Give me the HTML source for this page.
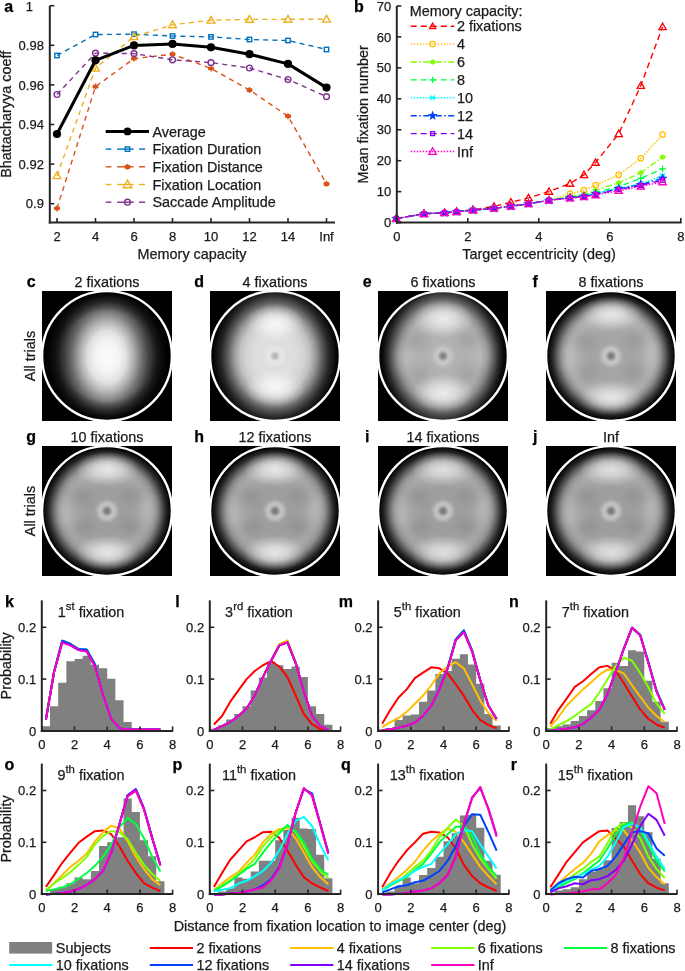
<!DOCTYPE html>
<html><head><meta charset="utf-8"><style>
html,body{margin:0;padding:0;background:#fff;}
svg{display:block;font-family:"Liberation Sans",sans-serif;will-change:transform;font-variant-ligatures:none;}

</style></head><body>
<svg width="685" height="971" viewBox="0 0 685 971">
<defs><filter id="blur5" x="-100%" y="-100%" width="300%" height="300%"><feGaussianBlur stdDeviation="5"/></filter>
<filter id="blur6" x="-100%" y="-100%" width="300%" height="300%"><feGaussianBlur stdDeviation="6"/></filter>
<radialGradient id="vig" cx="0.5" cy="0.5" r="0.5"><stop offset="0" stop-color="#000" stop-opacity="0"/><stop offset="0.7" stop-color="#000" stop-opacity="0"/><stop offset="0.8" stop-color="#000" stop-opacity="0.3"/><stop offset="0.9" stop-color="#000" stop-opacity="0.6"/><stop offset="1" stop-color="#000" stop-opacity="1"/></radialGradient>
<filter id="blur2" x="-100%" y="-100%" width="300%" height="300%"><feGaussianBlur stdDeviation="2"/></filter>
<filter id="blur15" x="-100%" y="-100%" width="300%" height="300%"><feGaussianBlur stdDeviation="1.5"/></filter>
<radialGradient id="hc0" cx="0.5" cy="0.5" r="0.5"><stop offset="0" stop-color="#fcfcfc"/><stop offset="0.19" stop-color="#f4f4f4"/><stop offset="0.31" stop-color="#e0e0e0"/><stop offset="0.43" stop-color="#b0b0b0"/><stop offset="0.56" stop-color="#707070"/><stop offset="0.68" stop-color="#404040"/><stop offset="0.8" stop-color="#202020"/><stop offset="0.92" stop-color="#0e0e0e"/><stop offset="1" stop-color="#000000"/></radialGradient>
<clipPath id="clipc0"><circle cx="107" cy="356" r="64"/></clipPath>
<radialGradient id="hr1" cx="0.5" cy="0.5" r="0.5"><stop offset="0" stop-color="#dedede"/><stop offset="0.3" stop-color="#dedede"/><stop offset="0.45" stop-color="#d4d4d4"/><stop offset="0.55" stop-color="#c2c2c2"/><stop offset="0.65" stop-color="#989898"/><stop offset="0.76" stop-color="#585858"/><stop offset="0.86" stop-color="#262626"/><stop offset="0.96" stop-color="#0a0a0a"/><stop offset="1" stop-color="#000000"/></radialGradient>
<clipPath id="clipr1"><circle cx="275" cy="356" r="64"/></clipPath>
<radialGradient id="lobe1" cx="0.5" cy="0.5" r="0.5"><stop offset="0" stop-color="#ffffff" stop-opacity="0.8"/><stop offset="0.4" stop-color="#ffffff" stop-opacity="0.56"/><stop offset="0.75" stop-color="#ffffff" stop-opacity="0.2"/><stop offset="1" stop-color="#ffffff" stop-opacity="0"/></radialGradient>
<radialGradient id="hr2" cx="0.5" cy="0.5" r="0.5"><stop offset="0" stop-color="#b2b2b2"/><stop offset="0.35" stop-color="#b2b2b2"/><stop offset="0.5" stop-color="#b6b6b6"/><stop offset="0.6" stop-color="#b2b2b2"/><stop offset="0.7" stop-color="#929292"/><stop offset="0.8" stop-color="#585858"/><stop offset="0.88" stop-color="#2c2c2c"/><stop offset="0.95" stop-color="#0e0e0e"/><stop offset="1" stop-color="#040404"/></radialGradient>
<clipPath id="clipr2"><circle cx="443" cy="356" r="64"/></clipPath>
<radialGradient id="lobe2" cx="0.5" cy="0.5" r="0.5"><stop offset="0" stop-color="#ffffff" stop-opacity="0.75"/><stop offset="0.4" stop-color="#ffffff" stop-opacity="0.52"/><stop offset="0.75" stop-color="#ffffff" stop-opacity="0.19"/><stop offset="1" stop-color="#ffffff" stop-opacity="0"/></radialGradient>
<radialGradient id="hr3" cx="0.5" cy="0.5" r="0.5"><stop offset="0" stop-color="#a5a5a5"/><stop offset="0.35" stop-color="#a5a5a5"/><stop offset="0.5" stop-color="#adadad"/><stop offset="0.62" stop-color="#b3b3b3"/><stop offset="0.7" stop-color="#adadad"/><stop offset="0.78" stop-color="#8e8e8e"/><stop offset="0.86" stop-color="#5a5a5a"/><stop offset="0.93" stop-color="#282828"/><stop offset="1" stop-color="#080808"/></radialGradient>
<clipPath id="clipr3"><circle cx="611" cy="356" r="64"/></clipPath>
<radialGradient id="lobe3" cx="0.5" cy="0.5" r="0.5"><stop offset="0" stop-color="#ffffff" stop-opacity="0.68"/><stop offset="0.4" stop-color="#ffffff" stop-opacity="0.48"/><stop offset="0.75" stop-color="#ffffff" stop-opacity="0.17"/><stop offset="1" stop-color="#ffffff" stop-opacity="0"/></radialGradient>
<radialGradient id="hr4" cx="0.5" cy="0.5" r="0.5"><stop offset="0" stop-color="#9e9e9e"/><stop offset="0.35" stop-color="#9e9e9e"/><stop offset="0.5" stop-color="#a6a6a6"/><stop offset="0.62" stop-color="#acacac"/><stop offset="0.7" stop-color="#a6a6a6"/><stop offset="0.78" stop-color="#8e8e8e"/><stop offset="0.86" stop-color="#5a5a5a"/><stop offset="0.93" stop-color="#282828"/><stop offset="1" stop-color="#080808"/></radialGradient>
<clipPath id="clipr4"><circle cx="107" cy="511" r="64"/></clipPath>
<radialGradient id="lobe4" cx="0.5" cy="0.5" r="0.5"><stop offset="0" stop-color="#ffffff" stop-opacity="0.72"/><stop offset="0.4" stop-color="#ffffff" stop-opacity="0.51"/><stop offset="0.75" stop-color="#ffffff" stop-opacity="0.18"/><stop offset="1" stop-color="#ffffff" stop-opacity="0"/></radialGradient>
<radialGradient id="hr5" cx="0.5" cy="0.5" r="0.5"><stop offset="0" stop-color="#9e9e9e"/><stop offset="0.35" stop-color="#9e9e9e"/><stop offset="0.5" stop-color="#a6a6a6"/><stop offset="0.62" stop-color="#acacac"/><stop offset="0.7" stop-color="#a6a6a6"/><stop offset="0.78" stop-color="#8e8e8e"/><stop offset="0.86" stop-color="#5a5a5a"/><stop offset="0.93" stop-color="#282828"/><stop offset="1" stop-color="#080808"/></radialGradient>
<clipPath id="clipr5"><circle cx="275" cy="511" r="64"/></clipPath>
<radialGradient id="lobe5" cx="0.5" cy="0.5" r="0.5"><stop offset="0" stop-color="#ffffff" stop-opacity="0.72"/><stop offset="0.4" stop-color="#ffffff" stop-opacity="0.51"/><stop offset="0.75" stop-color="#ffffff" stop-opacity="0.18"/><stop offset="1" stop-color="#ffffff" stop-opacity="0"/></radialGradient>
<radialGradient id="hr6" cx="0.5" cy="0.5" r="0.5"><stop offset="0" stop-color="#9e9e9e"/><stop offset="0.35" stop-color="#9e9e9e"/><stop offset="0.5" stop-color="#a6a6a6"/><stop offset="0.62" stop-color="#acacac"/><stop offset="0.7" stop-color="#a6a6a6"/><stop offset="0.78" stop-color="#8e8e8e"/><stop offset="0.86" stop-color="#5a5a5a"/><stop offset="0.93" stop-color="#282828"/><stop offset="1" stop-color="#080808"/></radialGradient>
<clipPath id="clipr6"><circle cx="443" cy="511" r="64"/></clipPath>
<radialGradient id="lobe6" cx="0.5" cy="0.5" r="0.5"><stop offset="0" stop-color="#ffffff" stop-opacity="0.64"/><stop offset="0.4" stop-color="#ffffff" stop-opacity="0.45"/><stop offset="0.75" stop-color="#ffffff" stop-opacity="0.16"/><stop offset="1" stop-color="#ffffff" stop-opacity="0"/></radialGradient>
<radialGradient id="hr7" cx="0.5" cy="0.5" r="0.5"><stop offset="0" stop-color="#9e9e9e"/><stop offset="0.35" stop-color="#9e9e9e"/><stop offset="0.5" stop-color="#a6a6a6"/><stop offset="0.62" stop-color="#acacac"/><stop offset="0.7" stop-color="#a6a6a6"/><stop offset="0.78" stop-color="#8e8e8e"/><stop offset="0.86" stop-color="#5a5a5a"/><stop offset="0.93" stop-color="#282828"/><stop offset="1" stop-color="#080808"/></radialGradient>
<clipPath id="clipr7"><circle cx="611" cy="511" r="64"/></clipPath>
<radialGradient id="lobe7" cx="0.5" cy="0.5" r="0.5"><stop offset="0" stop-color="#ffffff" stop-opacity="0.64"/><stop offset="0.4" stop-color="#ffffff" stop-opacity="0.45"/><stop offset="0.75" stop-color="#ffffff" stop-opacity="0.16"/><stop offset="1" stop-color="#ffffff" stop-opacity="0"/></radialGradient></defs>
<polyline points="57,55.5 95.5,34.5 134,34.2 172.5,36 211,36.9 249.5,39.5 288,40.5 326.5,49.5" fill="none" stroke="#0072bd" stroke-width="1.4" stroke-dasharray="5 4.2" stroke-linejoin="round"/>
<rect x="54.8" y="53.3" width="4.4" height="4.4" fill="none" stroke="#0072bd" stroke-width="1.4"/>
<rect x="93.3" y="32.3" width="4.4" height="4.4" fill="none" stroke="#0072bd" stroke-width="1.4"/>
<rect x="131.8" y="32" width="4.4" height="4.4" fill="none" stroke="#0072bd" stroke-width="1.4"/>
<rect x="170.3" y="33.8" width="4.4" height="4.4" fill="none" stroke="#0072bd" stroke-width="1.4"/>
<rect x="208.8" y="34.7" width="4.4" height="4.4" fill="none" stroke="#0072bd" stroke-width="1.4"/>
<rect x="247.3" y="37.3" width="4.4" height="4.4" fill="none" stroke="#0072bd" stroke-width="1.4"/>
<rect x="285.8" y="38.3" width="4.4" height="4.4" fill="none" stroke="#0072bd" stroke-width="1.4"/>
<rect x="324.3" y="47.3" width="4.4" height="4.4" fill="none" stroke="#0072bd" stroke-width="1.4"/>
<polyline points="57,208.4 95.5,86.6 134,58.6 172.5,54.2 211,68.5 249.5,90 288,116.2 326.5,183.8" fill="none" stroke="#d95319" stroke-width="1.4" stroke-dasharray="5 4.2" stroke-linejoin="round"/>
<circle cx="57" cy="208.4" r="2.1" fill="#d95319"/>
<path d="M57 211.4L57 205.4M54.4 209.9L59.6 206.9M54.4 206.9L59.6 209.9M54 208.4L60 208.4" stroke="#d95319" stroke-width="1.4" fill="none"/>
<circle cx="95.5" cy="86.6" r="2.1" fill="#d95319"/>
<path d="M95.5 89.6L95.5 83.6M92.9 88.1L98.1 85.1M92.9 85.1L98.1 88.1M92.5 86.6L98.5 86.6" stroke="#d95319" stroke-width="1.4" fill="none"/>
<circle cx="134" cy="58.6" r="2.1" fill="#d95319"/>
<path d="M134 61.6L134 55.6M131.4 60.1L136.6 57.1M131.4 57.1L136.6 60.1M131 58.6L137 58.6" stroke="#d95319" stroke-width="1.4" fill="none"/>
<circle cx="172.5" cy="54.2" r="2.1" fill="#d95319"/>
<path d="M172.5 57.2L172.5 51.2M169.9 55.7L175.1 52.7M169.9 52.7L175.1 55.7M169.5 54.2L175.5 54.2" stroke="#d95319" stroke-width="1.4" fill="none"/>
<circle cx="211" cy="68.5" r="2.1" fill="#d95319"/>
<path d="M211 71.5L211 65.5M208.4 70L213.6 67M208.4 67L213.6 70M208 68.5L214 68.5" stroke="#d95319" stroke-width="1.4" fill="none"/>
<circle cx="249.5" cy="90" r="2.1" fill="#d95319"/>
<path d="M249.5 93L249.5 87M246.9 91.5L252.1 88.5M246.9 88.5L252.1 91.5M246.5 90L252.5 90" stroke="#d95319" stroke-width="1.4" fill="none"/>
<circle cx="288" cy="116.2" r="2.1" fill="#d95319"/>
<path d="M288 119.2L288 113.2M285.4 117.7L290.6 114.7M285.4 114.7L290.6 117.7M285 116.2L291 116.2" stroke="#d95319" stroke-width="1.4" fill="none"/>
<circle cx="326.5" cy="183.8" r="2.1" fill="#d95319"/>
<path d="M326.5 186.8L326.5 180.8M323.9 185.3L329.1 182.3M323.9 182.3L329.1 185.3M323.5 183.8L329.5 183.8" stroke="#d95319" stroke-width="1.4" fill="none"/>
<polyline points="57,175.7 95.5,68.2 134,36.7 172.5,24.8 211,20.2 249.5,19.4 288,19.3 326.5,19.2" fill="none" stroke="#edb120" stroke-width="1.4" stroke-dasharray="5 4.2" stroke-linejoin="round"/>
<polygon points="57,171.83 60.87,178.6 53.13,178.6" fill="none" stroke="#edb120" stroke-width="1.4"/>
<polygon points="95.5,64.33 99.37,71.1 91.63,71.1" fill="none" stroke="#edb120" stroke-width="1.4"/>
<polygon points="134,32.83 137.87,39.6 130.13,39.6" fill="none" stroke="#edb120" stroke-width="1.4"/>
<polygon points="172.5,20.93 176.37,27.7 168.63,27.7" fill="none" stroke="#edb120" stroke-width="1.4"/>
<polygon points="211,16.33 214.87,23.1 207.13,23.1" fill="none" stroke="#edb120" stroke-width="1.4"/>
<polygon points="249.5,15.53 253.37,22.3 245.63,22.3" fill="none" stroke="#edb120" stroke-width="1.4"/>
<polygon points="288,15.43 291.87,22.2 284.13,22.2" fill="none" stroke="#edb120" stroke-width="1.4"/>
<polygon points="326.5,15.33 330.37,22.1 322.63,22.1" fill="none" stroke="#edb120" stroke-width="1.4"/>
<polyline points="57,94.5 95.5,53.1 134,53.6 172.5,59.8 211,62.6 249.5,68 288,79.5 326.5,96.6" fill="none" stroke="#7e2f8e" stroke-width="1.4" stroke-dasharray="5 4.2" stroke-linejoin="round"/>
<circle cx="57" cy="94.5" r="2.9" fill="none" stroke="#7e2f8e" stroke-width="1.4"/>
<circle cx="95.5" cy="53.1" r="2.9" fill="none" stroke="#7e2f8e" stroke-width="1.4"/>
<circle cx="134" cy="53.6" r="2.9" fill="none" stroke="#7e2f8e" stroke-width="1.4"/>
<circle cx="172.5" cy="59.8" r="2.9" fill="none" stroke="#7e2f8e" stroke-width="1.4"/>
<circle cx="211" cy="62.6" r="2.9" fill="none" stroke="#7e2f8e" stroke-width="1.4"/>
<circle cx="249.5" cy="68" r="2.9" fill="none" stroke="#7e2f8e" stroke-width="1.4"/>
<circle cx="288" cy="79.5" r="2.9" fill="none" stroke="#7e2f8e" stroke-width="1.4"/>
<circle cx="326.5" cy="96.6" r="2.9" fill="none" stroke="#7e2f8e" stroke-width="1.4"/>
<polyline points="57,134 95.5,60.3 134,45.4 172.5,43.9 211,47.3 249.5,54.2 288,63.9 326.5,87.6" fill="none" stroke="#000" stroke-width="3" stroke-linejoin="round"/>
<circle cx="57" cy="134" r="4.1" fill="#000"/>
<circle cx="95.5" cy="60.3" r="4.1" fill="#000"/>
<circle cx="134" cy="45.4" r="4.1" fill="#000"/>
<circle cx="172.5" cy="43.9" r="4.1" fill="#000"/>
<circle cx="211" cy="47.3" r="4.1" fill="#000"/>
<circle cx="249.5" cy="54.2" r="4.1" fill="#000"/>
<circle cx="288" cy="63.9" r="4.1" fill="#000"/>
<circle cx="326.5" cy="87.6" r="4.1" fill="#000"/>
<line x1="49.8" y1="5.8" x2="49.8" y2="223.5" stroke="#262626" stroke-width="2"/>
<line x1="48.8" y1="222.5" x2="335" y2="222.5" stroke="#262626" stroke-width="2"/>
<line x1="49.8" y1="203.7" x2="54.3" y2="203.7" stroke="#262626" stroke-width="1.6"/>
<text x="43.9" y="208.3" font-size="13" fill="#1a1a1a" stroke="#1a1a1a" stroke-width="0.25" text-anchor="end">0.9</text>
<line x1="49.8" y1="164.1" x2="54.3" y2="164.1" stroke="#262626" stroke-width="1.6"/>
<text x="43.9" y="168.7" font-size="13" fill="#1a1a1a" stroke="#1a1a1a" stroke-width="0.25" text-anchor="end">0.92</text>
<line x1="49.8" y1="124.5" x2="54.3" y2="124.5" stroke="#262626" stroke-width="1.6"/>
<text x="43.9" y="129.1" font-size="13" fill="#1a1a1a" stroke="#1a1a1a" stroke-width="0.25" text-anchor="end">0.94</text>
<line x1="49.8" y1="84.9" x2="54.3" y2="84.9" stroke="#262626" stroke-width="1.6"/>
<text x="43.9" y="89.5" font-size="13" fill="#1a1a1a" stroke="#1a1a1a" stroke-width="0.25" text-anchor="end">0.96</text>
<line x1="49.8" y1="45.3" x2="54.3" y2="45.3" stroke="#262626" stroke-width="1.6"/>
<text x="43.9" y="49.9" font-size="13" fill="#1a1a1a" stroke="#1a1a1a" stroke-width="0.25" text-anchor="end">0.98</text>
<line x1="49.8" y1="5.7" x2="54.3" y2="5.7" stroke="#262626" stroke-width="1.6"/>
<text x="25.7" y="10.8" font-size="13" fill="#1a1a1a" stroke="#1a1a1a" stroke-width="0.25">1</text>
<line x1="57" y1="222.5" x2="57" y2="218" stroke="#262626" stroke-width="1.6"/>
<text x="57" y="241.3" font-size="13" fill="#1a1a1a" stroke="#1a1a1a" stroke-width="0.25" text-anchor="middle">2</text>
<line x1="95.5" y1="222.5" x2="95.5" y2="218" stroke="#262626" stroke-width="1.6"/>
<text x="95.5" y="241.3" font-size="13" fill="#1a1a1a" stroke="#1a1a1a" stroke-width="0.25" text-anchor="middle">4</text>
<line x1="134" y1="222.5" x2="134" y2="218" stroke="#262626" stroke-width="1.6"/>
<text x="134" y="241.3" font-size="13" fill="#1a1a1a" stroke="#1a1a1a" stroke-width="0.25" text-anchor="middle">6</text>
<line x1="172.5" y1="222.5" x2="172.5" y2="218" stroke="#262626" stroke-width="1.6"/>
<text x="172.5" y="241.3" font-size="13" fill="#1a1a1a" stroke="#1a1a1a" stroke-width="0.25" text-anchor="middle">8</text>
<line x1="211" y1="222.5" x2="211" y2="218" stroke="#262626" stroke-width="1.6"/>
<text x="211" y="241.3" font-size="13" fill="#1a1a1a" stroke="#1a1a1a" stroke-width="0.25" text-anchor="middle">10</text>
<line x1="249.5" y1="222.5" x2="249.5" y2="218" stroke="#262626" stroke-width="1.6"/>
<text x="249.5" y="241.3" font-size="13" fill="#1a1a1a" stroke="#1a1a1a" stroke-width="0.25" text-anchor="middle">12</text>
<line x1="288" y1="222.5" x2="288" y2="218" stroke="#262626" stroke-width="1.6"/>
<text x="288" y="241.3" font-size="13" fill="#1a1a1a" stroke="#1a1a1a" stroke-width="0.25" text-anchor="middle">14</text>
<line x1="326.5" y1="222.5" x2="326.5" y2="218" stroke="#262626" stroke-width="1.6"/>
<text x="326.5" y="241.3" font-size="13" fill="#1a1a1a" stroke="#1a1a1a" stroke-width="0.25" text-anchor="middle">Inf</text>
<text x="192" y="258.7" font-size="14.4" fill="#1a1a1a" stroke="#1a1a1a" stroke-width="0.25" text-anchor="middle">Memory capacity</text>
<text x="11.3" y="114.3" font-size="14.4" fill="#1a1a1a" stroke="#1a1a1a" stroke-width="0.25" text-anchor="middle" transform="rotate(-90 11.3 114.3)">Bhattacharyya coeff</text>
<text x="8.6" y="12.2" font-size="16" fill="#000" stroke="#000" stroke-width="0.25" text-anchor="middle" font-weight="bold">a</text>
<line x1="105.7" y1="131.4" x2="149" y2="131.4" stroke="#000" stroke-width="3"/>
<circle cx="127.5" cy="131.4" r="3.89" fill="#000"/>
<text x="152.5" y="136.6" font-size="14.4" fill="#1a1a1a" stroke="#1a1a1a" stroke-width="0.25">Average</text>
<line x1="105.7" y1="149.1" x2="111.4" y2="149.1" stroke="#0072bd" stroke-width="1.4"/>
<line x1="117.1" y1="149.1" x2="133.7" y2="149.1" stroke="#0072bd" stroke-width="1.4"/>
<line x1="139" y1="149.1" x2="145.1" y2="149.1" stroke="#0072bd" stroke-width="1.4"/>
<rect x="125.3" y="146.9" width="4.4" height="4.4" fill="none" stroke="#0072bd" stroke-width="1.4"/>
<text x="152.5" y="154.3" font-size="14.4" fill="#1a1a1a" stroke="#1a1a1a" stroke-width="0.25">Fixation Duration</text>
<line x1="105.7" y1="166.8" x2="111.4" y2="166.8" stroke="#d95319" stroke-width="1.4"/>
<line x1="117.1" y1="166.8" x2="133.7" y2="166.8" stroke="#d95319" stroke-width="1.4"/>
<line x1="139" y1="166.8" x2="145.1" y2="166.8" stroke="#d95319" stroke-width="1.4"/>
<circle cx="127.5" cy="166.8" r="2.1" fill="#d95319"/>
<path d="M127.5 169.8L127.5 163.8M124.9 168.3L130.1 165.3M124.9 165.3L130.1 168.3M124.5 166.8L130.5 166.8" stroke="#d95319" stroke-width="1.4" fill="none"/>
<text x="152.5" y="172" font-size="14.4" fill="#1a1a1a" stroke="#1a1a1a" stroke-width="0.25">Fixation Distance</text>
<line x1="105.7" y1="184.5" x2="111.4" y2="184.5" stroke="#edb120" stroke-width="1.4"/>
<line x1="117.1" y1="184.5" x2="133.7" y2="184.5" stroke="#edb120" stroke-width="1.4"/>
<line x1="139" y1="184.5" x2="145.1" y2="184.5" stroke="#edb120" stroke-width="1.4"/>
<polygon points="127.5,180.2 131.8,187.72 123.2,187.72" fill="none" stroke="#edb120" stroke-width="1.4"/>
<text x="152.5" y="189.7" font-size="14.4" fill="#1a1a1a" stroke="#1a1a1a" stroke-width="0.25">Fixation Location</text>
<line x1="105.7" y1="202.2" x2="111.4" y2="202.2" stroke="#7e2f8e" stroke-width="1.4"/>
<line x1="117.1" y1="202.2" x2="133.7" y2="202.2" stroke="#7e2f8e" stroke-width="1.4"/>
<line x1="139" y1="202.2" x2="145.1" y2="202.2" stroke="#7e2f8e" stroke-width="1.4"/>
<circle cx="127.5" cy="202.2" r="2.9" fill="none" stroke="#7e2f8e" stroke-width="1.4"/>
<text x="152.5" y="207.4" font-size="14.4" fill="#1a1a1a" stroke="#1a1a1a" stroke-width="0.25">Saccade Amplitude</text>
<polyline points="396.3,218.6 424,213.6 444.5,212.6 456.6,211.4 473,209.8 494,206.4 510.9,202.2 528.5,197.9 549,191.5 570,183.5 584,174.8 595.6,162.5 618.7,133.8 640.8,85.6 662.6,26.8" fill="none" stroke="#ff0000" stroke-width="1.4" stroke-dasharray="6 4" stroke-linejoin="round"/>
<polygon points="396.3,214.94 399.95,221.34 392.65,221.34" fill="none" stroke="#ff0000" stroke-width="1.3"/>
<polygon points="424,209.94 427.65,216.34 420.35,216.34" fill="none" stroke="#ff0000" stroke-width="1.3"/>
<polygon points="444.5,208.94 448.15,215.34 440.85,215.34" fill="none" stroke="#ff0000" stroke-width="1.3"/>
<polygon points="456.6,207.75 460.25,214.14 452.95,214.14" fill="none" stroke="#ff0000" stroke-width="1.3"/>
<polygon points="473,206.15 476.65,212.54 469.35,212.54" fill="none" stroke="#ff0000" stroke-width="1.3"/>
<polygon points="494,202.75 497.65,209.14 490.35,209.14" fill="none" stroke="#ff0000" stroke-width="1.3"/>
<polygon points="510.9,198.54 514.55,204.94 507.25,204.94" fill="none" stroke="#ff0000" stroke-width="1.3"/>
<polygon points="528.5,194.25 532.15,200.64 524.85,200.64" fill="none" stroke="#ff0000" stroke-width="1.3"/>
<polygon points="549,187.84 552.65,194.24 545.35,194.24" fill="none" stroke="#ff0000" stroke-width="1.3"/>
<polygon points="570,179.84 573.65,186.24 566.35,186.24" fill="none" stroke="#ff0000" stroke-width="1.3"/>
<polygon points="584,171.15 587.65,177.54 580.35,177.54" fill="none" stroke="#ff0000" stroke-width="1.3"/>
<polygon points="595.6,158.84 599.25,165.24 591.95,165.24" fill="none" stroke="#ff0000" stroke-width="1.3"/>
<polygon points="618.7,130.15 622.36,136.54 615.05,136.54" fill="none" stroke="#ff0000" stroke-width="1.3"/>
<polygon points="640.8,81.94 644.45,88.34 637.14,88.34" fill="none" stroke="#ff0000" stroke-width="1.3"/>
<polygon points="662.6,23.14 666.25,29.54 658.95,29.54" fill="none" stroke="#ff0000" stroke-width="1.3"/>
<polyline points="396.3,218.6 424,213.8 444.5,212.8 456.6,211.8 473,210.2 494,208.3 510.9,206.3 528.5,203.8 549,200.3 570,193.9 584,190.2 595.6,185.1 618.7,174.9 640.8,158.3 662.6,134.6" fill="none" stroke="#ffbf00" stroke-width="1.4" stroke-dasharray="1.5 1.5" stroke-linejoin="round"/>
<circle cx="396.3" cy="218.6" r="2.75" fill="none" stroke="#ffbf00" stroke-width="1.3"/>
<circle cx="424" cy="213.8" r="2.75" fill="none" stroke="#ffbf00" stroke-width="1.3"/>
<circle cx="444.5" cy="212.8" r="2.75" fill="none" stroke="#ffbf00" stroke-width="1.3"/>
<circle cx="456.6" cy="211.8" r="2.75" fill="none" stroke="#ffbf00" stroke-width="1.3"/>
<circle cx="473" cy="210.2" r="2.75" fill="none" stroke="#ffbf00" stroke-width="1.3"/>
<circle cx="494" cy="208.3" r="2.75" fill="none" stroke="#ffbf00" stroke-width="1.3"/>
<circle cx="510.9" cy="206.3" r="2.75" fill="none" stroke="#ffbf00" stroke-width="1.3"/>
<circle cx="528.5" cy="203.8" r="2.75" fill="none" stroke="#ffbf00" stroke-width="1.3"/>
<circle cx="549" cy="200.3" r="2.75" fill="none" stroke="#ffbf00" stroke-width="1.3"/>
<circle cx="570" cy="193.9" r="2.75" fill="none" stroke="#ffbf00" stroke-width="1.3"/>
<circle cx="584" cy="190.2" r="2.75" fill="none" stroke="#ffbf00" stroke-width="1.3"/>
<circle cx="595.6" cy="185.1" r="2.75" fill="none" stroke="#ffbf00" stroke-width="1.3"/>
<circle cx="618.7" cy="174.9" r="2.75" fill="none" stroke="#ffbf00" stroke-width="1.3"/>
<circle cx="640.8" cy="158.3" r="2.75" fill="none" stroke="#ffbf00" stroke-width="1.3"/>
<circle cx="662.6" cy="134.6" r="2.75" fill="none" stroke="#ffbf00" stroke-width="1.3"/>
<polyline points="396.3,218.6 424,213.8 444.5,212.8 456.6,211.8 473,210.2 494,208.3 510.9,206.3 528.5,203.8 549,200.3 570,196.5 584,194.3 595.6,190.2 618.7,182.8 640.8,172.7 662.6,157.1" fill="none" stroke="#80ff00" stroke-width="1.4" stroke-dasharray="6 2.5 1.5 2.5" stroke-linejoin="round"/>
<circle cx="396.3" cy="218.6" r="1.99" fill="#80ff00"/>
<path d="M396.3 221.45L396.3 215.75M393.83 220.03L398.77 217.17M393.83 217.17L398.77 220.03M393.45 218.6L399.15 218.6" stroke="#80ff00" stroke-width="1.3" fill="none"/>
<circle cx="424" cy="213.8" r="1.99" fill="#80ff00"/>
<path d="M424 216.65L424 210.95M421.53 215.23L426.47 212.38M421.53 212.38L426.47 215.23M421.15 213.8L426.85 213.8" stroke="#80ff00" stroke-width="1.3" fill="none"/>
<circle cx="444.5" cy="212.8" r="1.99" fill="#80ff00"/>
<path d="M444.5 215.65L444.5 209.95M442.03 214.23L446.97 211.38M442.03 211.38L446.97 214.23M441.65 212.8L447.35 212.8" stroke="#80ff00" stroke-width="1.3" fill="none"/>
<circle cx="456.6" cy="211.8" r="1.99" fill="#80ff00"/>
<path d="M456.6 214.65L456.6 208.95M454.13 213.23L459.07 210.38M454.13 210.38L459.07 213.23M453.75 211.8L459.45 211.8" stroke="#80ff00" stroke-width="1.3" fill="none"/>
<circle cx="473" cy="210.2" r="1.99" fill="#80ff00"/>
<path d="M473 213.05L473 207.35M470.53 211.62L475.47 208.77M470.53 208.77L475.47 211.62M470.15 210.2L475.85 210.2" stroke="#80ff00" stroke-width="1.3" fill="none"/>
<circle cx="494" cy="208.3" r="1.99" fill="#80ff00"/>
<path d="M494 211.15L494 205.45M491.53 209.73L496.47 206.88M491.53 206.88L496.47 209.73M491.15 208.3L496.85 208.3" stroke="#80ff00" stroke-width="1.3" fill="none"/>
<circle cx="510.9" cy="206.3" r="1.99" fill="#80ff00"/>
<path d="M510.9 209.15L510.9 203.45M508.43 207.73L513.37 204.88M508.43 204.88L513.37 207.73M508.05 206.3L513.75 206.3" stroke="#80ff00" stroke-width="1.3" fill="none"/>
<circle cx="528.5" cy="203.8" r="1.99" fill="#80ff00"/>
<path d="M528.5 206.65L528.5 200.95M526.03 205.23L530.97 202.38M526.03 202.38L530.97 205.23M525.65 203.8L531.35 203.8" stroke="#80ff00" stroke-width="1.3" fill="none"/>
<circle cx="549" cy="200.3" r="1.99" fill="#80ff00"/>
<path d="M549 203.15L549 197.45M546.53 201.73L551.47 198.88M546.53 198.88L551.47 201.73M546.15 200.3L551.85 200.3" stroke="#80ff00" stroke-width="1.3" fill="none"/>
<circle cx="570" cy="196.5" r="1.99" fill="#80ff00"/>
<path d="M570 199.35L570 193.65M567.53 197.93L572.47 195.07M567.53 195.07L572.47 197.93M567.15 196.5L572.85 196.5" stroke="#80ff00" stroke-width="1.3" fill="none"/>
<circle cx="584" cy="194.3" r="1.99" fill="#80ff00"/>
<path d="M584 197.15L584 191.45M581.53 195.73L586.47 192.88M581.53 192.88L586.47 195.73M581.15 194.3L586.85 194.3" stroke="#80ff00" stroke-width="1.3" fill="none"/>
<circle cx="595.6" cy="190.2" r="1.99" fill="#80ff00"/>
<path d="M595.6 193.05L595.6 187.35M593.13 191.62L598.07 188.77M593.13 188.77L598.07 191.62M592.75 190.2L598.45 190.2" stroke="#80ff00" stroke-width="1.3" fill="none"/>
<circle cx="618.7" cy="182.8" r="1.99" fill="#80ff00"/>
<path d="M618.7 185.65L618.7 179.95M616.23 184.23L621.17 181.38M616.23 181.38L621.17 184.23M615.85 182.8L621.55 182.8" stroke="#80ff00" stroke-width="1.3" fill="none"/>
<circle cx="640.8" cy="172.7" r="1.99" fill="#80ff00"/>
<path d="M640.8 175.55L640.8 169.85M638.33 174.12L643.27 171.27M638.33 171.27L643.27 174.12M637.95 172.7L643.65 172.7" stroke="#80ff00" stroke-width="1.3" fill="none"/>
<circle cx="662.6" cy="157.1" r="1.99" fill="#80ff00"/>
<path d="M662.6 159.95L662.6 154.25M660.13 158.53L665.07 155.67M660.13 155.67L665.07 158.53M659.75 157.1L665.45 157.1" stroke="#80ff00" stroke-width="1.3" fill="none"/>
<polyline points="396.3,218.6 424,213.8 444.5,212.8 456.6,211.8 473,210.2 494,208.3 510.9,206.3 528.5,203.8 549,200.3 570,197 584,195.5 595.6,192.5 618.7,186.7 640.8,178.4 662.6,168.8" fill="none" stroke="#00ff40" stroke-width="1.4" stroke-dasharray="6 4" stroke-linejoin="round"/>
<path d="M392.88 218.6L399.72 218.6M396.3 215.18L396.3 222.02" stroke="#00ff40" stroke-width="1.3"/>
<path d="M420.58 213.8L427.42 213.8M424 210.38L424 217.22" stroke="#00ff40" stroke-width="1.3"/>
<path d="M441.08 212.8L447.92 212.8M444.5 209.38L444.5 216.22" stroke="#00ff40" stroke-width="1.3"/>
<path d="M453.18 211.8L460.02 211.8M456.6 208.38L456.6 215.22" stroke="#00ff40" stroke-width="1.3"/>
<path d="M469.58 210.2L476.42 210.2M473 206.78L473 213.62" stroke="#00ff40" stroke-width="1.3"/>
<path d="M490.58 208.3L497.42 208.3M494 204.88L494 211.72" stroke="#00ff40" stroke-width="1.3"/>
<path d="M507.48 206.3L514.32 206.3M510.9 202.88L510.9 209.72" stroke="#00ff40" stroke-width="1.3"/>
<path d="M525.08 203.8L531.92 203.8M528.5 200.38L528.5 207.22" stroke="#00ff40" stroke-width="1.3"/>
<path d="M545.58 200.3L552.42 200.3M549 196.88L549 203.72" stroke="#00ff40" stroke-width="1.3"/>
<path d="M566.58 197L573.42 197M570 193.58L570 200.42" stroke="#00ff40" stroke-width="1.3"/>
<path d="M580.58 195.5L587.42 195.5M584 192.08L584 198.92" stroke="#00ff40" stroke-width="1.3"/>
<path d="M592.18 192.5L599.02 192.5M595.6 189.08L595.6 195.92" stroke="#00ff40" stroke-width="1.3"/>
<path d="M615.28 186.7L622.12 186.7M618.7 183.28L618.7 190.12" stroke="#00ff40" stroke-width="1.3"/>
<path d="M637.38 178.4L644.22 178.4M640.8 174.98L640.8 181.82" stroke="#00ff40" stroke-width="1.3"/>
<path d="M659.18 168.8L666.02 168.8M662.6 165.38L662.6 172.22" stroke="#00ff40" stroke-width="1.3"/>
<polyline points="396.3,218.6 424,213.8 444.5,212.8 456.6,211.8 473,210.2 494,208.3 510.9,206.3 528.5,203.8 549,200.3 570,197.5 584,196 595.6,193.5 618.7,188 640.8,183.7 662.6,175.8" fill="none" stroke="#00ffff" stroke-width="1.4" stroke-dasharray="1.5 1.5" stroke-linejoin="round"/>
<path d="M393.83 216.13L398.77 221.07M393.83 221.07L398.77 216.13M393.83 218.6L398.77 218.6" stroke="#00ffff" stroke-width="1.3"/>
<path d="M421.53 211.33L426.47 216.27M421.53 216.27L426.47 211.33M421.53 213.8L426.47 213.8" stroke="#00ffff" stroke-width="1.3"/>
<path d="M442.03 210.33L446.97 215.27M442.03 215.27L446.97 210.33M442.03 212.8L446.97 212.8" stroke="#00ffff" stroke-width="1.3"/>
<path d="M454.13 209.33L459.07 214.27M454.13 214.27L459.07 209.33M454.13 211.8L459.07 211.8" stroke="#00ffff" stroke-width="1.3"/>
<path d="M470.53 207.73L475.47 212.67M470.53 212.67L475.47 207.73M470.53 210.2L475.47 210.2" stroke="#00ffff" stroke-width="1.3"/>
<path d="M491.53 205.83L496.47 210.77M491.53 210.77L496.47 205.83M491.53 208.3L496.47 208.3" stroke="#00ffff" stroke-width="1.3"/>
<path d="M508.43 203.83L513.37 208.77M508.43 208.77L513.37 203.83M508.43 206.3L513.37 206.3" stroke="#00ffff" stroke-width="1.3"/>
<path d="M526.03 201.33L530.97 206.27M526.03 206.27L530.97 201.33M526.03 203.8L530.97 203.8" stroke="#00ffff" stroke-width="1.3"/>
<path d="M546.53 197.83L551.47 202.77M546.53 202.77L551.47 197.83M546.53 200.3L551.47 200.3" stroke="#00ffff" stroke-width="1.3"/>
<path d="M567.53 195.03L572.47 199.97M567.53 199.97L572.47 195.03M567.53 197.5L572.47 197.5" stroke="#00ffff" stroke-width="1.3"/>
<path d="M581.53 193.53L586.47 198.47M581.53 198.47L586.47 193.53M581.53 196L586.47 196" stroke="#00ffff" stroke-width="1.3"/>
<path d="M593.13 191.03L598.07 195.97M593.13 195.97L598.07 191.03M593.13 193.5L598.07 193.5" stroke="#00ffff" stroke-width="1.3"/>
<path d="M616.23 185.53L621.17 190.47M616.23 190.47L621.17 185.53M616.23 188L621.17 188" stroke="#00ffff" stroke-width="1.3"/>
<path d="M638.33 181.23L643.27 186.17M638.33 186.17L643.27 181.23M638.33 183.7L643.27 183.7" stroke="#00ffff" stroke-width="1.3"/>
<path d="M660.13 173.33L665.07 178.27M660.13 178.27L665.07 173.33M660.13 175.8L665.07 175.8" stroke="#00ffff" stroke-width="1.3"/>
<polyline points="396.3,218.6 424,213.8 444.5,212.8 456.6,211.8 473,210.2 494,208.3 510.9,206.3 528.5,203.8 549,200.3 570,197.8 584,196.3 595.6,194 618.7,188.8 640.8,184.6 662.6,178.4" fill="none" stroke="#0040ff" stroke-width="1.4" stroke-dasharray="6 2.5 1.5 2.5" stroke-linejoin="round"/>
<polygon points="396.3,214.69 397.27,217.27 400.02,217.39 397.86,219.11 398.6,221.76 396.3,220.24 394,221.76 394.74,219.11 392.58,217.39 395.33,217.27" fill="#0040ff" stroke="#0040ff" stroke-width="1.04"/>
<polygon points="424,209.89 424.97,212.47 427.72,212.59 425.56,214.31 426.3,216.96 424,215.44 421.7,216.96 422.44,214.31 420.28,212.59 423.03,212.47" fill="#0040ff" stroke="#0040ff" stroke-width="1.04"/>
<polygon points="444.5,208.89 445.47,211.47 448.22,211.59 446.06,213.31 446.8,215.96 444.5,214.44 442.2,215.96 442.94,213.31 440.78,211.59 443.53,211.47" fill="#0040ff" stroke="#0040ff" stroke-width="1.04"/>
<polygon points="456.6,207.89 457.57,210.47 460.32,210.59 458.16,212.31 458.9,214.96 456.6,213.44 454.3,214.96 455.04,212.31 452.88,210.59 455.63,210.47" fill="#0040ff" stroke="#0040ff" stroke-width="1.04"/>
<polygon points="473,206.29 473.97,208.87 476.72,208.99 474.56,210.71 475.3,213.36 473,211.84 470.7,213.36 471.44,210.71 469.28,208.99 472.03,208.87" fill="#0040ff" stroke="#0040ff" stroke-width="1.04"/>
<polygon points="494,204.39 494.97,206.97 497.72,207.09 495.56,208.81 496.3,211.46 494,209.94 491.7,211.46 492.44,208.81 490.28,207.09 493.03,206.97" fill="#0040ff" stroke="#0040ff" stroke-width="1.04"/>
<polygon points="510.9,202.39 511.87,204.97 514.62,205.09 512.46,206.81 513.2,209.46 510.9,207.94 508.6,209.46 509.34,206.81 507.18,205.09 509.93,204.97" fill="#0040ff" stroke="#0040ff" stroke-width="1.04"/>
<polygon points="528.5,199.89 529.47,202.47 532.22,202.59 530.06,204.31 530.8,206.96 528.5,205.44 526.2,206.96 526.94,204.31 524.78,202.59 527.53,202.47" fill="#0040ff" stroke="#0040ff" stroke-width="1.04"/>
<polygon points="549,196.39 549.97,198.97 552.72,199.09 550.56,200.81 551.3,203.46 549,201.94 546.7,203.46 547.44,200.81 545.28,199.09 548.03,198.97" fill="#0040ff" stroke="#0040ff" stroke-width="1.04"/>
<polygon points="570,193.89 570.97,196.47 573.72,196.59 571.56,198.31 572.3,200.96 570,199.44 567.7,200.96 568.44,198.31 566.28,196.59 569.03,196.47" fill="#0040ff" stroke="#0040ff" stroke-width="1.04"/>
<polygon points="584,192.39 584.97,194.97 587.72,195.09 585.56,196.81 586.3,199.46 584,197.94 581.7,199.46 582.44,196.81 580.28,195.09 583.03,194.97" fill="#0040ff" stroke="#0040ff" stroke-width="1.04"/>
<polygon points="595.6,190.09 596.57,192.67 599.32,192.79 597.16,194.51 597.9,197.16 595.6,195.64 593.3,197.16 594.04,194.51 591.88,192.79 594.63,192.67" fill="#0040ff" stroke="#0040ff" stroke-width="1.04"/>
<polygon points="618.7,184.89 619.67,187.47 622.42,187.59 620.26,189.31 621,191.96 618.7,190.44 616.4,191.96 617.14,189.31 614.98,187.59 617.73,187.47" fill="#0040ff" stroke="#0040ff" stroke-width="1.04"/>
<polygon points="640.8,180.69 641.77,183.27 644.52,183.39 642.36,185.11 643.1,187.76 640.8,186.24 638.5,187.76 639.24,185.11 637.08,183.39 639.83,183.27" fill="#0040ff" stroke="#0040ff" stroke-width="1.04"/>
<polygon points="662.6,174.49 663.57,177.07 666.32,177.19 664.16,178.91 664.9,181.56 662.6,180.04 660.3,181.56 661.04,178.91 658.88,177.19 661.63,177.07" fill="#0040ff" stroke="#0040ff" stroke-width="1.04"/>
<polyline points="396.3,218.6 424,213.8 444.5,212.8 456.6,211.8 473,210.2 494,208.3 510.9,206.3 528.5,203.8 549,200.3 570,198 584,196.6 595.6,194.5 618.7,189.5 640.8,185.5 662.6,180.2" fill="none" stroke="#8000ff" stroke-width="1.4" stroke-dasharray="6 4" stroke-linejoin="round"/>
<rect x="394.21" y="216.51" width="4.18" height="4.18" fill="none" stroke="#8000ff" stroke-width="1.3"/>
<rect x="421.91" y="211.71" width="4.18" height="4.18" fill="none" stroke="#8000ff" stroke-width="1.3"/>
<rect x="442.41" y="210.71" width="4.18" height="4.18" fill="none" stroke="#8000ff" stroke-width="1.3"/>
<rect x="454.51" y="209.71" width="4.18" height="4.18" fill="none" stroke="#8000ff" stroke-width="1.3"/>
<rect x="470.91" y="208.11" width="4.18" height="4.18" fill="none" stroke="#8000ff" stroke-width="1.3"/>
<rect x="491.91" y="206.21" width="4.18" height="4.18" fill="none" stroke="#8000ff" stroke-width="1.3"/>
<rect x="508.81" y="204.21" width="4.18" height="4.18" fill="none" stroke="#8000ff" stroke-width="1.3"/>
<rect x="526.41" y="201.71" width="4.18" height="4.18" fill="none" stroke="#8000ff" stroke-width="1.3"/>
<rect x="546.91" y="198.21" width="4.18" height="4.18" fill="none" stroke="#8000ff" stroke-width="1.3"/>
<rect x="567.91" y="195.91" width="4.18" height="4.18" fill="none" stroke="#8000ff" stroke-width="1.3"/>
<rect x="581.91" y="194.51" width="4.18" height="4.18" fill="none" stroke="#8000ff" stroke-width="1.3"/>
<rect x="593.51" y="192.41" width="4.18" height="4.18" fill="none" stroke="#8000ff" stroke-width="1.3"/>
<rect x="616.61" y="187.41" width="4.18" height="4.18" fill="none" stroke="#8000ff" stroke-width="1.3"/>
<rect x="638.71" y="183.41" width="4.18" height="4.18" fill="none" stroke="#8000ff" stroke-width="1.3"/>
<rect x="660.51" y="178.11" width="4.18" height="4.18" fill="none" stroke="#8000ff" stroke-width="1.3"/>
<polyline points="396.3,218.6 424,213.8 444.5,212.8 456.6,211.8 473,210.2 494,208.3 510.9,206.3 528.5,203.8 549,200.3 570,198.2 584,196.8 595.6,195 618.7,190.7 640.8,186.3 662.6,182" fill="none" stroke="#ff00bf" stroke-width="1.4" stroke-dasharray="1.5 1.5" stroke-linejoin="round"/>
<polygon points="396.3,214.94 399.95,221.34 392.65,221.34" fill="none" stroke="#ff00bf" stroke-width="1.3"/>
<polygon points="424,210.15 427.65,216.54 420.35,216.54" fill="none" stroke="#ff00bf" stroke-width="1.3"/>
<polygon points="444.5,209.15 448.15,215.54 440.85,215.54" fill="none" stroke="#ff00bf" stroke-width="1.3"/>
<polygon points="456.6,208.15 460.25,214.54 452.95,214.54" fill="none" stroke="#ff00bf" stroke-width="1.3"/>
<polygon points="473,206.54 476.65,212.94 469.35,212.94" fill="none" stroke="#ff00bf" stroke-width="1.3"/>
<polygon points="494,204.65 497.65,211.04 490.35,211.04" fill="none" stroke="#ff00bf" stroke-width="1.3"/>
<polygon points="510.9,202.65 514.55,209.04 507.25,209.04" fill="none" stroke="#ff00bf" stroke-width="1.3"/>
<polygon points="528.5,200.15 532.15,206.54 524.85,206.54" fill="none" stroke="#ff00bf" stroke-width="1.3"/>
<polygon points="549,196.65 552.65,203.04 545.35,203.04" fill="none" stroke="#ff00bf" stroke-width="1.3"/>
<polygon points="570,194.54 573.65,200.94 566.35,200.94" fill="none" stroke="#ff00bf" stroke-width="1.3"/>
<polygon points="584,193.15 587.65,199.54 580.35,199.54" fill="none" stroke="#ff00bf" stroke-width="1.3"/>
<polygon points="595.6,191.34 599.25,197.74 591.95,197.74" fill="none" stroke="#ff00bf" stroke-width="1.3"/>
<polygon points="618.7,187.04 622.36,193.44 615.05,193.44" fill="none" stroke="#ff00bf" stroke-width="1.3"/>
<polygon points="640.8,182.65 644.45,189.04 637.14,189.04" fill="none" stroke="#ff00bf" stroke-width="1.3"/>
<polygon points="662.6,178.34 666.25,184.74 658.95,184.74" fill="none" stroke="#ff00bf" stroke-width="1.3"/>
<line x1="396.8" y1="6" x2="396.8" y2="223.6" stroke="#262626" stroke-width="2"/>
<line x1="395.8" y1="222.6" x2="681.6" y2="222.6" stroke="#262626" stroke-width="2"/>
<line x1="396.8" y1="222.6" x2="401.3" y2="222.6" stroke="#262626" stroke-width="1.6"/>
<text x="391.2" y="227.2" font-size="13" fill="#1a1a1a" stroke="#1a1a1a" stroke-width="0.25" text-anchor="end">0</text>
<line x1="396.8" y1="191.65" x2="401.3" y2="191.65" stroke="#262626" stroke-width="1.6"/>
<text x="391.2" y="196.25" font-size="13" fill="#1a1a1a" stroke="#1a1a1a" stroke-width="0.25" text-anchor="end">10</text>
<line x1="396.8" y1="160.7" x2="401.3" y2="160.7" stroke="#262626" stroke-width="1.6"/>
<text x="391.2" y="165.3" font-size="13" fill="#1a1a1a" stroke="#1a1a1a" stroke-width="0.25" text-anchor="end">20</text>
<line x1="396.8" y1="129.75" x2="401.3" y2="129.75" stroke="#262626" stroke-width="1.6"/>
<text x="391.2" y="134.35" font-size="13" fill="#1a1a1a" stroke="#1a1a1a" stroke-width="0.25" text-anchor="end">30</text>
<line x1="396.8" y1="98.8" x2="401.3" y2="98.8" stroke="#262626" stroke-width="1.6"/>
<text x="391.2" y="103.4" font-size="13" fill="#1a1a1a" stroke="#1a1a1a" stroke-width="0.25" text-anchor="end">40</text>
<line x1="396.8" y1="67.85" x2="401.3" y2="67.85" stroke="#262626" stroke-width="1.6"/>
<text x="391.2" y="72.45" font-size="13" fill="#1a1a1a" stroke="#1a1a1a" stroke-width="0.25" text-anchor="end">50</text>
<line x1="396.8" y1="36.9" x2="401.3" y2="36.9" stroke="#262626" stroke-width="1.6"/>
<text x="391.2" y="41.5" font-size="13" fill="#1a1a1a" stroke="#1a1a1a" stroke-width="0.25" text-anchor="end">60</text>
<line x1="396.8" y1="5.95" x2="401.3" y2="5.95" stroke="#262626" stroke-width="1.6"/>
<text x="391.2" y="10.55" font-size="13" fill="#1a1a1a" stroke="#1a1a1a" stroke-width="0.25" text-anchor="end">70</text>
<line x1="396.8" y1="222.6" x2="396.8" y2="218.1" stroke="#262626" stroke-width="1.6"/>
<text x="396.8" y="241.3" font-size="13" fill="#1a1a1a" stroke="#1a1a1a" stroke-width="0.25" text-anchor="middle">0</text>
<line x1="467.8" y1="222.6" x2="467.8" y2="218.1" stroke="#262626" stroke-width="1.6"/>
<text x="467.8" y="241.3" font-size="13" fill="#1a1a1a" stroke="#1a1a1a" stroke-width="0.25" text-anchor="middle">2</text>
<line x1="538.8" y1="222.6" x2="538.8" y2="218.1" stroke="#262626" stroke-width="1.6"/>
<text x="538.8" y="241.3" font-size="13" fill="#1a1a1a" stroke="#1a1a1a" stroke-width="0.25" text-anchor="middle">4</text>
<line x1="609.8" y1="222.6" x2="609.8" y2="218.1" stroke="#262626" stroke-width="1.6"/>
<text x="609.8" y="241.3" font-size="13" fill="#1a1a1a" stroke="#1a1a1a" stroke-width="0.25" text-anchor="middle">6</text>
<line x1="680.8" y1="222.6" x2="680.8" y2="218.1" stroke="#262626" stroke-width="1.6"/>
<text x="680.8" y="241.3" font-size="13" fill="#1a1a1a" stroke="#1a1a1a" stroke-width="0.25" text-anchor="middle">8</text>
<text x="539" y="258.7" font-size="14.4" fill="#1a1a1a" stroke="#1a1a1a" stroke-width="0.25" text-anchor="middle">Target eccentricity (deg)</text>
<text x="368.2" y="114.4" font-size="14.4" fill="#1a1a1a" stroke="#1a1a1a" stroke-width="0.25" text-anchor="middle" transform="rotate(-90 368.2 114.4)">Mean fixation number</text>
<text x="359" y="12.4" font-size="16" fill="#000" stroke="#000" stroke-width="0.25" text-anchor="middle" font-weight="bold">b</text>
<text x="409.8" y="16.2" font-size="14.4" fill="#1a1a1a" stroke="#1a1a1a" stroke-width="0.25">Memory capacity:</text>
<line x1="410.7" y1="26.2" x2="454.3" y2="26.2" stroke="#ff0000" stroke-width="1.4" stroke-dasharray="6 4"/>
<polygon points="432.6,23.1 435.7,28.52 429.5,28.52" fill="none" stroke="#ff0000" stroke-width="1.3"/>
<text x="456.9" y="31.4" font-size="14.4" fill="#1a1a1a" stroke="#1a1a1a" stroke-width="0.25">2 fixations</text>
<line x1="410.7" y1="44.1" x2="454.3" y2="44.1" stroke="#ffbf00" stroke-width="1.4" stroke-dasharray="1.5 1.5"/>
<circle cx="432.6" cy="44.1" r="2.75" fill="none" stroke="#ffbf00" stroke-width="1.3"/>
<text x="456.9" y="49.3" font-size="14.4" fill="#1a1a1a" stroke="#1a1a1a" stroke-width="0.25">4</text>
<line x1="410.7" y1="62" x2="454.3" y2="62" stroke="#80ff00" stroke-width="1.4" stroke-dasharray="6 2.5 1.5 2.5"/>
<circle cx="432.6" cy="62" r="1.89" fill="#80ff00"/>
<path d="M432.6 64.7L432.6 59.3M430.26 63.35L434.94 60.65M430.26 60.65L434.94 63.35M429.9 62L435.3 62" stroke="#80ff00" stroke-width="1.3" fill="none"/>
<text x="456.9" y="67.2" font-size="14.4" fill="#1a1a1a" stroke="#1a1a1a" stroke-width="0.25">6</text>
<line x1="410.7" y1="79.9" x2="454.3" y2="79.9" stroke="#00ff40" stroke-width="1.4" stroke-dasharray="6 4"/>
<path d="M429.54 79.9L435.66 79.9M432.6 76.84L432.6 82.96" stroke="#00ff40" stroke-width="1.3"/>
<text x="456.9" y="85.1" font-size="14.4" fill="#1a1a1a" stroke="#1a1a1a" stroke-width="0.25">8</text>
<line x1="410.7" y1="97.8" x2="454.3" y2="97.8" stroke="#00ffff" stroke-width="1.4" stroke-dasharray="1.5 1.5"/>
<path d="M430.26 95.46L434.94 100.14M430.26 100.14L434.94 95.46M430.26 97.8L434.94 97.8" stroke="#00ffff" stroke-width="1.3"/>
<text x="456.9" y="103" font-size="14.4" fill="#1a1a1a" stroke="#1a1a1a" stroke-width="0.25">10</text>
<line x1="410.7" y1="115.7" x2="454.3" y2="115.7" stroke="#0040ff" stroke-width="1.4" stroke-dasharray="6 2.5 1.5 2.5"/>
<polygon points="432.6,112.02 433.51,114.45 436.1,114.56 434.07,116.18 434.76,118.68 432.6,117.25 430.44,118.68 431.13,116.18 429.1,114.56 431.69,114.45" fill="#0040ff" stroke="#0040ff" stroke-width="1.04"/>
<text x="456.9" y="120.9" font-size="14.4" fill="#1a1a1a" stroke="#1a1a1a" stroke-width="0.25">12</text>
<line x1="410.7" y1="133.6" x2="454.3" y2="133.6" stroke="#8000ff" stroke-width="1.4" stroke-dasharray="6 4"/>
<rect x="430.62" y="131.62" width="3.96" height="3.96" fill="none" stroke="#8000ff" stroke-width="1.3"/>
<text x="456.9" y="138.8" font-size="14.4" fill="#1a1a1a" stroke="#1a1a1a" stroke-width="0.25">14</text>
<line x1="410.7" y1="151.5" x2="454.3" y2="151.5" stroke="#ff00bf" stroke-width="1.4" stroke-dasharray="1.5 1.5"/>
<polygon points="432.6,147.72 436.38,154.34 428.82,154.34" fill="none" stroke="#ff00bf" stroke-width="1.3"/>
<text x="456.9" y="156.7" font-size="14.4" fill="#1a1a1a" stroke="#1a1a1a" stroke-width="0.25">Inf</text>
<rect x="42" y="291" width="130" height="130" fill="#000"/>
<g clip-path="url(#clipc0)">
<ellipse cx="107" cy="357" rx="62" ry="84" fill="url(#hc0)"/>
<circle cx="107" cy="356" r="64" fill="url(#vig)"/>
</g>
<circle cx="107" cy="356" r="64.9" fill="none" stroke="#fff" stroke-width="2.4"/>
<text x="107" y="287.2" font-size="14.4" fill="#1a1a1a" stroke="#1a1a1a" stroke-width="0.25" text-anchor="middle">2 fixations</text>
<text x="31.2" y="287.4" font-size="16" fill="#000" stroke="#000" stroke-width="0.25" text-anchor="middle" font-weight="bold">c</text>
<text x="34.6" y="356" font-size="14.4" fill="#1a1a1a" stroke="#1a1a1a" stroke-width="0.25" text-anchor="middle" transform="rotate(-90 34.6 356)">All trials</text>
<rect x="210" y="291" width="130" height="130" fill="#000"/>
<g clip-path="url(#clipr1)">
<ellipse cx="275" cy="356" rx="63" ry="71.82" fill="url(#hr1)"/>
<ellipse cx="275" cy="323" rx="28.8" ry="19.2" fill="url(#lobe1)"/>
<ellipse cx="275" cy="388" rx="30.4" ry="19.2" fill="url(#lobe1)"/>
<circle cx="275" cy="356" r="7.3" fill="none" stroke="#ebebeb" stroke-width="4.5" filter="url(#blur2)" opacity="0.9"/>
<circle cx="275" cy="356" r="3.2" fill="#afafaf" filter="url(#blur15)"/>
</g>
<circle cx="275" cy="356" r="64.9" fill="none" stroke="#fff" stroke-width="2.4"/>
<text x="275" y="287.2" font-size="14.4" fill="#1a1a1a" stroke="#1a1a1a" stroke-width="0.25" text-anchor="middle">4 fixations</text>
<text x="199.2" y="287.4" font-size="16" fill="#000" stroke="#000" stroke-width="0.25" text-anchor="middle" font-weight="bold">d</text>
<rect x="378" y="291" width="130" height="130" fill="#000"/>
<g clip-path="url(#clipr2)">
<ellipse cx="443" cy="356" rx="63" ry="72.45" fill="url(#hr2)"/>
<ellipse cx="443" cy="319" rx="30.4" ry="19.2" fill="url(#lobe2)"/>
<ellipse cx="443" cy="393" rx="30.4" ry="19.2" fill="url(#lobe2)"/>
<g fill="#000" opacity="0.13" filter="url(#blur6)">
<ellipse cx="416" cy="340" rx="9" ry="8"/>
<ellipse cx="469" cy="339" rx="9" ry="8"/>
<ellipse cx="418" cy="375" rx="9" ry="8"/>
<ellipse cx="468" cy="374" rx="9" ry="8"/>
</g>
<g fill="#fff" opacity="0.18" filter="url(#blur6)">
<ellipse cx="399" cy="358" rx="6" ry="14"/>
<ellipse cx="487" cy="354" rx="6" ry="14"/>
</g>
<circle cx="443" cy="356" r="7.3" fill="none" stroke="#d2d2d2" stroke-width="4.5" filter="url(#blur2)" opacity="0.9"/>
<circle cx="443" cy="356" r="3.2" fill="#787878" filter="url(#blur15)"/>
</g>
<circle cx="443" cy="356" r="64.9" fill="none" stroke="#fff" stroke-width="2.4"/>
<text x="443" y="287.2" font-size="14.4" fill="#1a1a1a" stroke="#1a1a1a" stroke-width="0.25" text-anchor="middle">6 fixations</text>
<text x="367.2" y="287.4" font-size="16" fill="#000" stroke="#000" stroke-width="0.25" text-anchor="middle" font-weight="bold">e</text>
<rect x="546" y="291" width="130" height="130" fill="#000"/>
<g clip-path="url(#clipr3)">
<ellipse cx="611" cy="356" rx="63" ry="63" fill="url(#hr3)"/>
<ellipse cx="611" cy="314" rx="32" ry="17.6" fill="url(#lobe3)"/>
<ellipse cx="611" cy="398" rx="32" ry="17.6" fill="url(#lobe3)"/>
<g fill="#000" opacity="0.13" filter="url(#blur6)">
<ellipse cx="584" cy="340" rx="9" ry="8"/>
<ellipse cx="637" cy="339" rx="9" ry="8"/>
<ellipse cx="586" cy="375" rx="9" ry="8"/>
<ellipse cx="636" cy="374" rx="9" ry="8"/>
</g>
<g fill="#fff" opacity="0.18" filter="url(#blur6)">
<ellipse cx="567" cy="358" rx="6" ry="14"/>
<ellipse cx="655" cy="354" rx="6" ry="14"/>
</g>
<circle cx="611" cy="356" r="7.3" fill="none" stroke="#d7d7d7" stroke-width="4.5" filter="url(#blur2)" opacity="0.9"/>
<circle cx="611" cy="356" r="3.2" fill="#737373" filter="url(#blur15)"/>
</g>
<circle cx="611" cy="356" r="64.9" fill="none" stroke="#fff" stroke-width="2.4"/>
<text x="611" y="287.2" font-size="14.4" fill="#1a1a1a" stroke="#1a1a1a" stroke-width="0.25" text-anchor="middle">8 fixations</text>
<text x="535.2" y="287.4" font-size="16" fill="#000" stroke="#000" stroke-width="0.25" text-anchor="middle" font-weight="bold">f</text>
<rect x="42" y="446" width="130" height="130" fill="#000"/>
<g clip-path="url(#clipr4)">
<ellipse cx="107" cy="511" rx="63" ry="63" fill="url(#hr4)"/>
<ellipse cx="107" cy="469" rx="32" ry="17.6" fill="url(#lobe4)"/>
<ellipse cx="107" cy="553" rx="32" ry="17.6" fill="url(#lobe4)"/>
<g fill="#000" opacity="0.13" filter="url(#blur6)">
<ellipse cx="80" cy="495" rx="9" ry="8"/>
<ellipse cx="133" cy="494" rx="9" ry="8"/>
<ellipse cx="82" cy="530" rx="9" ry="8"/>
<ellipse cx="132" cy="529" rx="9" ry="8"/>
</g>
<g fill="#fff" opacity="0.18" filter="url(#blur6)">
<ellipse cx="63" cy="513" rx="6" ry="14"/>
<ellipse cx="151" cy="509" rx="6" ry="14"/>
</g>
<circle cx="107" cy="511" r="7.3" fill="none" stroke="#d7d7d7" stroke-width="4.5" filter="url(#blur2)" opacity="0.9"/>
<circle cx="107" cy="511" r="3.2" fill="#737373" filter="url(#blur15)"/>
</g>
<circle cx="107" cy="511" r="64.9" fill="none" stroke="#fff" stroke-width="2.4"/>
<text x="107" y="442.2" font-size="14.4" fill="#1a1a1a" stroke="#1a1a1a" stroke-width="0.25" text-anchor="middle">10 fixations</text>
<text x="31.2" y="442.4" font-size="16" fill="#000" stroke="#000" stroke-width="0.25" text-anchor="middle" font-weight="bold">g</text>
<text x="34.6" y="511" font-size="14.4" fill="#1a1a1a" stroke="#1a1a1a" stroke-width="0.25" text-anchor="middle" transform="rotate(-90 34.6 511)">All trials</text>
<rect x="210" y="446" width="130" height="130" fill="#000"/>
<g clip-path="url(#clipr5)">
<ellipse cx="275" cy="511" rx="63" ry="63" fill="url(#hr5)"/>
<ellipse cx="275" cy="469" rx="32" ry="17.6" fill="url(#lobe5)"/>
<ellipse cx="275" cy="553" rx="32" ry="17.6" fill="url(#lobe5)"/>
<g fill="#000" opacity="0.13" filter="url(#blur6)">
<ellipse cx="248" cy="495" rx="9" ry="8"/>
<ellipse cx="301" cy="494" rx="9" ry="8"/>
<ellipse cx="250" cy="530" rx="9" ry="8"/>
<ellipse cx="300" cy="529" rx="9" ry="8"/>
</g>
<g fill="#fff" opacity="0.18" filter="url(#blur6)">
<ellipse cx="231" cy="513" rx="6" ry="14"/>
<ellipse cx="319" cy="509" rx="6" ry="14"/>
</g>
<circle cx="275" cy="511" r="7.3" fill="none" stroke="#d7d7d7" stroke-width="4.5" filter="url(#blur2)" opacity="0.9"/>
<circle cx="275" cy="511" r="3.2" fill="#737373" filter="url(#blur15)"/>
</g>
<circle cx="275" cy="511" r="64.9" fill="none" stroke="#fff" stroke-width="2.4"/>
<text x="275" y="442.2" font-size="14.4" fill="#1a1a1a" stroke="#1a1a1a" stroke-width="0.25" text-anchor="middle">12 fixations</text>
<text x="199.2" y="442.4" font-size="16" fill="#000" stroke="#000" stroke-width="0.25" text-anchor="middle" font-weight="bold">h</text>
<rect x="378" y="446" width="130" height="130" fill="#000"/>
<g clip-path="url(#clipr6)">
<ellipse cx="443" cy="511" rx="63" ry="63" fill="url(#hr6)"/>
<ellipse cx="443" cy="469" rx="32" ry="17.6" fill="url(#lobe6)"/>
<ellipse cx="443" cy="553" rx="32" ry="17.6" fill="url(#lobe6)"/>
<g fill="#000" opacity="0.13" filter="url(#blur6)">
<ellipse cx="416" cy="495" rx="9" ry="8"/>
<ellipse cx="469" cy="494" rx="9" ry="8"/>
<ellipse cx="418" cy="530" rx="9" ry="8"/>
<ellipse cx="468" cy="529" rx="9" ry="8"/>
</g>
<g fill="#fff" opacity="0.18" filter="url(#blur6)">
<ellipse cx="399" cy="513" rx="6" ry="14"/>
<ellipse cx="487" cy="509" rx="6" ry="14"/>
</g>
<circle cx="443" cy="511" r="7.3" fill="none" stroke="#d7d7d7" stroke-width="4.5" filter="url(#blur2)" opacity="0.9"/>
<circle cx="443" cy="511" r="3.2" fill="#737373" filter="url(#blur15)"/>
</g>
<circle cx="443" cy="511" r="64.9" fill="none" stroke="#fff" stroke-width="2.4"/>
<text x="443" y="442.2" font-size="14.4" fill="#1a1a1a" stroke="#1a1a1a" stroke-width="0.25" text-anchor="middle">14 fixations</text>
<text x="367.2" y="442.4" font-size="16" fill="#000" stroke="#000" stroke-width="0.25" text-anchor="middle" font-weight="bold">i</text>
<rect x="546" y="446" width="130" height="130" fill="#000"/>
<g clip-path="url(#clipr7)">
<ellipse cx="611" cy="511" rx="63" ry="63" fill="url(#hr7)"/>
<ellipse cx="611" cy="469" rx="32" ry="17.6" fill="url(#lobe7)"/>
<ellipse cx="611" cy="553" rx="32" ry="17.6" fill="url(#lobe7)"/>
<g fill="#000" opacity="0.13" filter="url(#blur6)">
<ellipse cx="584" cy="495" rx="9" ry="8"/>
<ellipse cx="637" cy="494" rx="9" ry="8"/>
<ellipse cx="586" cy="530" rx="9" ry="8"/>
<ellipse cx="636" cy="529" rx="9" ry="8"/>
</g>
<g fill="#fff" opacity="0.18" filter="url(#blur6)">
<ellipse cx="567" cy="513" rx="6" ry="14"/>
<ellipse cx="655" cy="509" rx="6" ry="14"/>
</g>
<circle cx="611" cy="511" r="7.3" fill="none" stroke="#d7d7d7" stroke-width="4.5" filter="url(#blur2)" opacity="0.9"/>
<circle cx="611" cy="511" r="3.2" fill="#737373" filter="url(#blur15)"/>
</g>
<circle cx="611" cy="511" r="64.9" fill="none" stroke="#fff" stroke-width="2.4"/>
<text x="611" y="442.2" font-size="14.4" fill="#1a1a1a" stroke="#1a1a1a" stroke-width="0.25" text-anchor="middle">Inf</text>
<text x="535.2" y="442.4" font-size="16" fill="#000" stroke="#000" stroke-width="0.25" text-anchor="middle" font-weight="bold">j</text>
<path d="M41.8 730.9H49.97V726.16H41.8ZM49.97 730.9H58.15V706.33H49.97ZM58.15 730.9H66.33V682.83H58.15ZM66.33 730.9H74.5V661.16H66.33ZM74.5 730.9H82.67V659.12H74.5ZM82.67 730.9H90.85V655.65H82.67ZM90.85 730.9H99.02V664.84H90.85ZM99.03 730.9H107.2V668.32H99.03ZM107.2 730.9H115.38V678.74H107.2ZM115.38 730.9H123.55V700.2H115.38ZM123.55 730.9H131.72V722.07H123.55ZM131.73 730.9H139.9V728.2H131.73Z" fill="#808080"/>
<polyline points="45.89,719.62 54.06,672 62.24,640.73 70.41,644 78.59,649.11 86.76,649.72 94.94,664.43 103.11,695.09 111.29,719 119.46,728.2 127.64,729.43 135.81,729.43 143.99,729.43 152.16,729.43 160.34,729.43" fill="none" stroke="#ff0000" stroke-width="2" stroke-linejoin="round"/>
<polyline points="45.89,719.62 54.06,672 62.24,640.73 70.41,644 78.59,649.11 86.76,649.72 94.94,664.43 103.11,695.09 111.29,719 119.46,728.2 127.64,729.43 135.81,729.43 143.99,729.43 152.16,729.43 160.34,729.43" fill="none" stroke="#ffbf00" stroke-width="2" stroke-linejoin="round"/>
<polyline points="45.89,719.62 54.06,672 62.24,640.73 70.41,644 78.59,649.11 86.76,649.72 94.94,664.43 103.11,695.09 111.29,719 119.46,728.2 127.64,729.43 135.81,729.43 143.99,729.43 152.16,729.43 160.34,729.43" fill="none" stroke="#80ff00" stroke-width="2" stroke-linejoin="round"/>
<polyline points="45.89,719.62 54.06,672 62.24,640.73 70.41,644 78.59,649.11 86.76,649.72 94.94,664.43 103.11,695.09 111.29,719 119.46,728.2 127.64,729.43 135.81,729.43 143.99,729.43 152.16,729.43 160.34,729.43" fill="none" stroke="#00ff40" stroke-width="2" stroke-linejoin="round"/>
<polyline points="45.89,719.62 54.06,672 62.24,640.73 70.41,644 78.59,649.11 86.76,649.72 94.94,664.43 103.11,695.09 111.29,719 119.46,728.2 127.64,729.43 135.81,729.43 143.99,729.43 152.16,729.43 160.34,729.43" fill="none" stroke="#00ffff" stroke-width="2" stroke-linejoin="round"/>
<polyline points="45.89,719.62 54.06,672 62.24,640.73 70.41,644 78.59,649.11 86.76,649.72 94.94,664.43 103.11,695.09 111.29,719 119.46,728.2 127.64,729.43 135.81,729.43 143.99,729.43 152.16,729.43 160.34,729.43" fill="none" stroke="#0040ff" stroke-width="2" stroke-linejoin="round"/>
<polyline points="45.89,719.62 54.06,672 62.24,642.36 70.41,645.43 78.59,650.13 86.76,651.56 94.94,666.48 103.11,695.09 111.29,719 119.46,728.2 127.64,729.43 135.81,729.43 143.99,729.43 152.16,729.43 160.34,729.43" fill="none" stroke="#8000ff" stroke-width="2" stroke-linejoin="round"/>
<polyline points="45.89,719.62 54.06,672 62.24,642.36 70.41,645.43 78.59,650.13 86.76,651.56 94.94,666.48 103.11,695.09 111.29,719 119.46,728.2 127.64,729.43 135.81,729.43 143.99,729.43 152.16,729.43 160.34,729.43" fill="none" stroke="#ff00bf" stroke-width="2" stroke-linejoin="round"/>
<line x1="41.8" y1="600.36" x2="41.8" y2="731.9" stroke="#262626" stroke-width="2"/>
<line x1="40.8" y1="730.9" x2="173.1" y2="730.9" stroke="#262626" stroke-width="2"/>
<line x1="41.8" y1="730.9" x2="46.3" y2="730.9" stroke="#262626" stroke-width="1.6"/>
<text x="36.2" y="735.5" font-size="13" fill="#1a1a1a" stroke="#1a1a1a" stroke-width="0.25" text-anchor="end">0</text>
<line x1="41.8" y1="679.1" x2="46.3" y2="679.1" stroke="#262626" stroke-width="1.6"/>
<text x="36.2" y="683.7" font-size="13" fill="#1a1a1a" stroke="#1a1a1a" stroke-width="0.25" text-anchor="end">0.1</text>
<line x1="41.8" y1="627.3" x2="46.3" y2="627.3" stroke="#262626" stroke-width="1.6"/>
<text x="36.2" y="631.9" font-size="13" fill="#1a1a1a" stroke="#1a1a1a" stroke-width="0.25" text-anchor="end">0.2</text>
<line x1="41.8" y1="730.9" x2="41.8" y2="726.4" stroke="#262626" stroke-width="1.6"/>
<text x="41.8" y="748.9" font-size="13" fill="#1a1a1a" stroke="#1a1a1a" stroke-width="0.25" text-anchor="middle">0</text>
<line x1="74.5" y1="730.9" x2="74.5" y2="726.4" stroke="#262626" stroke-width="1.6"/>
<text x="74.5" y="748.9" font-size="13" fill="#1a1a1a" stroke="#1a1a1a" stroke-width="0.25" text-anchor="middle">2</text>
<line x1="107.2" y1="730.9" x2="107.2" y2="726.4" stroke="#262626" stroke-width="1.6"/>
<text x="107.2" y="748.9" font-size="13" fill="#1a1a1a" stroke="#1a1a1a" stroke-width="0.25" text-anchor="middle">4</text>
<line x1="139.9" y1="730.9" x2="139.9" y2="726.4" stroke="#262626" stroke-width="1.6"/>
<text x="139.9" y="748.9" font-size="13" fill="#1a1a1a" stroke="#1a1a1a" stroke-width="0.25" text-anchor="middle">6</text>
<line x1="172.6" y1="730.9" x2="172.6" y2="726.4" stroke="#262626" stroke-width="1.6"/>
<text x="172.6" y="748.9" font-size="13" fill="#1a1a1a" stroke="#1a1a1a" stroke-width="0.25" text-anchor="middle">8</text>
<text x="91" y="617" font-size="14.4" fill="#1a1a1a" stroke="#1a1a1a" stroke-width="0.25" text-anchor="middle">1<tspan font-size="11.4" dy="-7">st</tspan><tspan dy="7"> fixation</tspan></text>
<text x="9.5" y="606.8" font-size="16" fill="#000" stroke="#000" stroke-width="0.25" text-anchor="middle" font-weight="bold">k</text>
<text x="10.9" y="665.8" font-size="14.4" fill="#1a1a1a" stroke="#1a1a1a" stroke-width="0.25" text-anchor="middle" transform="rotate(-90 10.9 665.8)">Probability</text>
<path d="M209.8 730.9H217.98V728.81H209.8ZM217.98 730.9H226.15V725.13H217.98ZM226.15 730.9H234.33V719.41H226.15ZM234.33 730.9H242.5V713.89H234.33ZM242.5 730.9H250.68V706.13H242.5ZM250.68 730.9H258.85V690.39H250.68ZM258.85 730.9H267.03V677.51H258.85ZM267.03 730.9H275.2V661.78H267.03ZM275.2 730.9H283.38V665.25H275.2ZM283.38 730.9H291.55V668.93H283.38ZM291.55 730.9H299.73V666.48H291.55ZM299.73 730.9H307.9V677.11H299.73ZM307.9 730.9H316.08V706.13H307.9ZM316.08 730.9H324.25V713.89H316.08ZM324.25 730.9H332.43V724.72H324.25Z" fill="#808080"/>
<polyline points="213.89,724.52 222.06,715.94 230.24,701.63 238.41,690.39 246.59,679.15 254.76,670.97 262.94,665.25 271.11,661.16 279.29,666.48 287.46,677.11 295.64,695.5 303.81,713.89 311.99,724.11 320.16,729.22 328.34,730.24" fill="none" stroke="#ff0000" stroke-width="2" stroke-linejoin="round"/>
<polyline points="213.89,729.83 222.06,726.16 230.24,722.07 238.41,715.94 246.59,708.78 254.76,695.5 262.94,677.11 271.11,660.76 279.29,644 287.46,640.32 295.64,662.8 303.81,691.41 311.99,715.94 320.16,726.16 328.34,729.83" fill="none" stroke="#ffbf00" stroke-width="2" stroke-linejoin="round"/>
<polyline points="213.89,729.83 222.06,726.16 230.24,722.07 238.41,715.94 246.59,708.78 254.76,695.5 262.94,677.11 271.11,660.76 279.29,645.43 287.46,642.36 295.64,662.8 303.81,691.41 311.99,715.94 320.16,726.16 328.34,729.83" fill="none" stroke="#80ff00" stroke-width="2" stroke-linejoin="round"/>
<polyline points="213.89,729.83 222.06,726.16 230.24,722.07 238.41,715.94 246.59,708.78 254.76,695.5 262.94,677.11 271.11,660.76 279.29,645.43 287.46,642.36 295.64,662.8 303.81,691.41 311.99,715.94 320.16,726.16 328.34,729.83" fill="none" stroke="#00ff40" stroke-width="2" stroke-linejoin="round"/>
<polyline points="213.89,729.83 222.06,726.16 230.24,722.07 238.41,715.94 246.59,708.78 254.76,695.5 262.94,677.11 271.11,660.76 279.29,645.43 287.46,642.36 295.64,662.8 303.81,691.41 311.99,715.94 320.16,726.16 328.34,729.83" fill="none" stroke="#00ffff" stroke-width="2" stroke-linejoin="round"/>
<polyline points="213.89,729.83 222.06,726.16 230.24,722.07 238.41,715.94 246.59,708.78 254.76,695.5 262.94,677.11 271.11,660.76 279.29,645.43 287.46,642.36 295.64,662.8 303.81,691.41 311.99,715.94 320.16,726.16 328.34,729.83" fill="none" stroke="#0040ff" stroke-width="2" stroke-linejoin="round"/>
<polyline points="213.89,729.83 222.06,726.16 230.24,722.07 238.41,715.94 246.59,708.78 254.76,695.5 262.94,677.11 271.11,660.76 279.29,645.43 287.46,642.36 295.64,662.8 303.81,691.41 311.99,715.94 320.16,726.16 328.34,729.83" fill="none" stroke="#8000ff" stroke-width="2" stroke-linejoin="round"/>
<polyline points="213.89,729.83 222.06,726.16 230.24,722.07 238.41,715.94 246.59,708.78 254.76,695.5 262.94,677.11 271.11,660.76 279.29,645.43 287.46,642.36 295.64,662.8 303.81,691.41 311.99,715.94 320.16,726.16 328.34,729.83" fill="none" stroke="#ff00bf" stroke-width="2" stroke-linejoin="round"/>
<line x1="209.8" y1="600.36" x2="209.8" y2="731.9" stroke="#262626" stroke-width="2"/>
<line x1="208.8" y1="730.9" x2="341.1" y2="730.9" stroke="#262626" stroke-width="2"/>
<line x1="209.8" y1="730.9" x2="214.3" y2="730.9" stroke="#262626" stroke-width="1.6"/>
<text x="204.2" y="735.5" font-size="13" fill="#1a1a1a" stroke="#1a1a1a" stroke-width="0.25" text-anchor="end">0</text>
<line x1="209.8" y1="679.1" x2="214.3" y2="679.1" stroke="#262626" stroke-width="1.6"/>
<text x="204.2" y="683.7" font-size="13" fill="#1a1a1a" stroke="#1a1a1a" stroke-width="0.25" text-anchor="end">0.1</text>
<line x1="209.8" y1="627.3" x2="214.3" y2="627.3" stroke="#262626" stroke-width="1.6"/>
<text x="204.2" y="631.9" font-size="13" fill="#1a1a1a" stroke="#1a1a1a" stroke-width="0.25" text-anchor="end">0.2</text>
<line x1="209.8" y1="730.9" x2="209.8" y2="726.4" stroke="#262626" stroke-width="1.6"/>
<text x="209.8" y="748.9" font-size="13" fill="#1a1a1a" stroke="#1a1a1a" stroke-width="0.25" text-anchor="middle">0</text>
<line x1="242.5" y1="730.9" x2="242.5" y2="726.4" stroke="#262626" stroke-width="1.6"/>
<text x="242.5" y="748.9" font-size="13" fill="#1a1a1a" stroke="#1a1a1a" stroke-width="0.25" text-anchor="middle">2</text>
<line x1="275.2" y1="730.9" x2="275.2" y2="726.4" stroke="#262626" stroke-width="1.6"/>
<text x="275.2" y="748.9" font-size="13" fill="#1a1a1a" stroke="#1a1a1a" stroke-width="0.25" text-anchor="middle">4</text>
<line x1="307.9" y1="730.9" x2="307.9" y2="726.4" stroke="#262626" stroke-width="1.6"/>
<text x="307.9" y="748.9" font-size="13" fill="#1a1a1a" stroke="#1a1a1a" stroke-width="0.25" text-anchor="middle">6</text>
<line x1="340.6" y1="730.9" x2="340.6" y2="726.4" stroke="#262626" stroke-width="1.6"/>
<text x="340.6" y="748.9" font-size="13" fill="#1a1a1a" stroke="#1a1a1a" stroke-width="0.25" text-anchor="middle">8</text>
<text x="259" y="617" font-size="14.4" fill="#1a1a1a" stroke="#1a1a1a" stroke-width="0.25" text-anchor="middle">3<tspan font-size="11.4" dy="-7">rd</tspan><tspan dy="7"> fixation</tspan></text>
<text x="177.5" y="606.8" font-size="16" fill="#000" stroke="#000" stroke-width="0.25" text-anchor="middle" font-weight="bold">l</text>
<path d="M378.1 730.9H386.28V729.24H378.1ZM386.28 730.9H394.45V728.22H386.28ZM394.45 730.9H402.63V720.04H394.45ZM402.62 730.9H410.8V715.55H402.62ZM410.8 730.9H418.98V714.52H410.8ZM418.98 730.9H427.15V701.65H418.98ZM427.15 730.9H435.33V690.41H427.15ZM435.33 730.9H443.5V674.06H435.33ZM443.5 730.9H451.68V670.99H443.5ZM451.68 730.9H459.85V658.73H451.68ZM459.85 730.9H468.03V654.23H459.85ZM468.03 730.9H476.2V664.45H468.03ZM476.2 730.9H484.38V683.87H476.2ZM484.38 730.9H492.55V713.91H484.38ZM492.55 730.9H500.73V725.56H492.55Z" fill="#808080"/>
<polyline points="382.19,723.72 390.36,709.82 398.54,697.56 406.71,689.39 414.89,678.15 423.06,672.63 431.24,667.31 439.41,668.34 447.59,673.45 455.76,684.28 463.94,695.93 472.11,709.82 480.29,720.04 488.46,725.15 496.64,728.22" fill="none" stroke="#ff0000" stroke-width="2" stroke-linejoin="round"/>
<polyline points="382.19,727.2 390.36,722.09 398.54,718 406.71,711.87 414.89,703.69 423.06,695.52 431.24,685.3 439.41,673.45 447.59,666.5 455.76,662.21 463.94,668.54 472.11,684.28 480.29,700.63 488.46,712.89 496.64,721.06" fill="none" stroke="#ffbf00" stroke-width="2" stroke-linejoin="round"/>
<polyline points="382.19,730.26 390.36,729.24 398.54,727.81 406.71,725.77 414.89,722.5 423.06,715.96 431.24,705.74 439.41,688.37 447.59,667.93 455.76,639.32 463.94,630.53 472.11,650.56 480.29,680.19 488.46,705.74 496.64,719.02" fill="none" stroke="#80ff00" stroke-width="2" stroke-linejoin="round"/>
<polyline points="382.19,730.26 390.36,729.24 398.54,727.81 406.71,725.77 414.89,722.5 423.06,715.96 431.24,705.74 439.41,688.37 447.59,667.93 455.76,639.32 463.94,630.53 472.11,650.56 480.29,680.19 488.46,705.74 496.64,719.02" fill="none" stroke="#00ff40" stroke-width="2" stroke-linejoin="round"/>
<polyline points="382.19,730.26 390.36,729.24 398.54,727.81 406.71,725.77 414.89,722.5 423.06,715.96 431.24,705.74 439.41,688.37 447.59,667.93 455.76,639.32 463.94,630.53 472.11,650.56 480.29,680.19 488.46,705.74 496.64,719.02" fill="none" stroke="#00ffff" stroke-width="2" stroke-linejoin="round"/>
<polyline points="382.19,730.26 390.36,729.24 398.54,727.81 406.71,725.77 414.89,722.5 423.06,715.96 431.24,705.74 439.41,688.37 447.59,667.93 455.76,639.32 463.94,630.53 472.11,650.56 480.29,680.19 488.46,705.74 496.64,719.02" fill="none" stroke="#0040ff" stroke-width="2" stroke-linejoin="round"/>
<polyline points="382.19,730.26 390.36,729.24 398.54,727.81 406.71,725.77 414.89,722.5 423.06,715.96 431.24,705.74 439.41,689.39 447.59,668.95 455.76,640.34 463.94,632.16 472.11,651.58 480.29,680.19 488.46,705.74 496.64,719.02" fill="none" stroke="#8000ff" stroke-width="2" stroke-linejoin="round"/>
<polyline points="382.19,730.26 390.36,729.24 398.54,727.81 406.71,725.77 414.89,722.5 423.06,715.96 431.24,705.74 439.41,689.39 447.59,668.95 455.76,640.34 463.94,632.16 472.11,651.58 480.29,680.19 488.46,705.74 496.64,719.02" fill="none" stroke="#ff00bf" stroke-width="2" stroke-linejoin="round"/>
<line x1="378.1" y1="600.36" x2="378.1" y2="731.9" stroke="#262626" stroke-width="2"/>
<line x1="377.1" y1="730.9" x2="509.4" y2="730.9" stroke="#262626" stroke-width="2"/>
<line x1="378.1" y1="730.9" x2="382.6" y2="730.9" stroke="#262626" stroke-width="1.6"/>
<text x="372.5" y="735.5" font-size="13" fill="#1a1a1a" stroke="#1a1a1a" stroke-width="0.25" text-anchor="end">0</text>
<line x1="378.1" y1="679.1" x2="382.6" y2="679.1" stroke="#262626" stroke-width="1.6"/>
<text x="372.5" y="683.7" font-size="13" fill="#1a1a1a" stroke="#1a1a1a" stroke-width="0.25" text-anchor="end">0.1</text>
<line x1="378.1" y1="627.3" x2="382.6" y2="627.3" stroke="#262626" stroke-width="1.6"/>
<text x="372.5" y="631.9" font-size="13" fill="#1a1a1a" stroke="#1a1a1a" stroke-width="0.25" text-anchor="end">0.2</text>
<line x1="378.1" y1="730.9" x2="378.1" y2="726.4" stroke="#262626" stroke-width="1.6"/>
<text x="378.1" y="748.9" font-size="13" fill="#1a1a1a" stroke="#1a1a1a" stroke-width="0.25" text-anchor="middle">0</text>
<line x1="410.8" y1="730.9" x2="410.8" y2="726.4" stroke="#262626" stroke-width="1.6"/>
<text x="410.8" y="748.9" font-size="13" fill="#1a1a1a" stroke="#1a1a1a" stroke-width="0.25" text-anchor="middle">2</text>
<line x1="443.5" y1="730.9" x2="443.5" y2="726.4" stroke="#262626" stroke-width="1.6"/>
<text x="443.5" y="748.9" font-size="13" fill="#1a1a1a" stroke="#1a1a1a" stroke-width="0.25" text-anchor="middle">4</text>
<line x1="476.2" y1="730.9" x2="476.2" y2="726.4" stroke="#262626" stroke-width="1.6"/>
<text x="476.2" y="748.9" font-size="13" fill="#1a1a1a" stroke="#1a1a1a" stroke-width="0.25" text-anchor="middle">6</text>
<line x1="508.9" y1="730.9" x2="508.9" y2="726.4" stroke="#262626" stroke-width="1.6"/>
<text x="508.9" y="748.9" font-size="13" fill="#1a1a1a" stroke="#1a1a1a" stroke-width="0.25" text-anchor="middle">8</text>
<text x="427.3" y="617" font-size="14.4" fill="#1a1a1a" stroke="#1a1a1a" stroke-width="0.25" text-anchor="middle">5<tspan font-size="11.4" dy="-7">th</tspan><tspan dy="7"> fixation</tspan></text>
<text x="345.8" y="606.8" font-size="16" fill="#000" stroke="#000" stroke-width="0.25" text-anchor="middle" font-weight="bold">m</text>
<path d="M546.2 730.9H554.38V728.22H546.2ZM554.38 730.9H562.55V726.17H554.38ZM562.55 730.9H570.73V724.54H562.55ZM570.73 730.9H578.9V721.06H570.73ZM578.9 730.9H587.08V715.96H578.9ZM587.08 730.9H595.25V710.23H587.08ZM595.25 730.9H603.42V701.04H595.25ZM603.43 730.9H611.6V688.37H603.43ZM611.6 730.9H619.77V662.82H611.6ZM619.78 730.9H627.95V665.88H619.78ZM627.95 730.9H636.12V650.15H627.95ZM636.12 730.9H644.3V651.58H636.12ZM644.3 730.9H652.48V680.8H644.3ZM652.48 730.9H660.65V701.65H652.48ZM660.65 730.9H668.83V721.68H660.65Z" fill="#808080"/>
<polyline points="550.29,723.72 558.46,709.82 566.64,698.58 574.81,686.93 582.99,681.21 591.16,674.06 599.34,667.31 607.51,665.88 615.69,670.99 623.86,683.26 632.04,696.54 640.21,709.42 648.39,719.02 656.56,724.54 664.74,727.81" fill="none" stroke="#ff0000" stroke-width="2" stroke-linejoin="round"/>
<polyline points="550.29,726.58 558.46,716.98 566.64,705.74 574.81,697.56 582.99,689.39 591.16,682.23 599.34,674.67 607.51,669.56 615.69,669.97 623.86,673.45 632.04,685.3 640.21,696.54 648.39,707.78 656.56,715.96 664.74,722.09" fill="none" stroke="#ffbf00" stroke-width="2" stroke-linejoin="round"/>
<polyline points="550.29,729.24 558.46,725.15 566.64,721.06 574.81,715.96 582.99,709.82 591.16,704.1 599.34,692.45 607.51,679.17 615.69,665.88 623.86,657.71 632.04,660.77 640.21,673.04 648.39,687.34 656.56,703.69 664.74,713.91" fill="none" stroke="#80ff00" stroke-width="2" stroke-linejoin="round"/>
<polyline points="550.29,730.67 558.46,729.85 566.64,728.63 574.81,727.2 582.99,724.13 591.16,717.59 599.34,709.82 607.51,693.88 615.69,672.02 623.86,648.51 632.04,627.67 640.21,634.61 648.39,661.8 656.56,690.41 664.74,708.8" fill="none" stroke="#00ff40" stroke-width="2" stroke-linejoin="round"/>
<polyline points="550.29,730.67 558.46,729.85 566.64,728.63 574.81,727.2 582.99,724.13 591.16,717.59 599.34,709.82 607.51,693.88 615.69,672.02 623.86,648.51 632.04,627.67 640.21,634.61 648.39,661.8 656.56,690.41 664.74,708.8" fill="none" stroke="#00ffff" stroke-width="2" stroke-linejoin="round"/>
<polyline points="550.29,730.67 558.46,729.85 566.64,728.63 574.81,727.2 582.99,724.13 591.16,717.59 599.34,709.82 607.51,693.88 615.69,672.02 623.86,648.51 632.04,627.67 640.21,635.23 648.39,662.82 656.56,691.43 664.74,709.82" fill="none" stroke="#0040ff" stroke-width="2" stroke-linejoin="round"/>
<polyline points="550.29,730.67 558.46,729.85 566.64,728.63 574.81,727.2 582.99,724.13 591.16,717.59 599.34,709.82 607.51,693.88 615.69,672.02 623.86,648.51 632.04,627.67 640.21,635.23 648.39,662.82 656.56,691.43 664.74,709.82" fill="none" stroke="#8000ff" stroke-width="2" stroke-linejoin="round"/>
<polyline points="550.29,730.67 558.46,729.85 566.64,728.63 574.81,727.2 582.99,724.13 591.16,717.59 599.34,709.82 607.51,693.88 615.69,672.02 623.86,648.51 632.04,627.67 640.21,635.23 648.39,662.82 656.56,691.43 664.74,709.82" fill="none" stroke="#ff00bf" stroke-width="2" stroke-linejoin="round"/>
<line x1="546.2" y1="600.36" x2="546.2" y2="731.9" stroke="#262626" stroke-width="2"/>
<line x1="545.2" y1="730.9" x2="677.5" y2="730.9" stroke="#262626" stroke-width="2"/>
<line x1="546.2" y1="730.9" x2="550.7" y2="730.9" stroke="#262626" stroke-width="1.6"/>
<text x="540.6" y="735.5" font-size="13" fill="#1a1a1a" stroke="#1a1a1a" stroke-width="0.25" text-anchor="end">0</text>
<line x1="546.2" y1="679.1" x2="550.7" y2="679.1" stroke="#262626" stroke-width="1.6"/>
<text x="540.6" y="683.7" font-size="13" fill="#1a1a1a" stroke="#1a1a1a" stroke-width="0.25" text-anchor="end">0.1</text>
<line x1="546.2" y1="627.3" x2="550.7" y2="627.3" stroke="#262626" stroke-width="1.6"/>
<text x="540.6" y="631.9" font-size="13" fill="#1a1a1a" stroke="#1a1a1a" stroke-width="0.25" text-anchor="end">0.2</text>
<line x1="546.2" y1="730.9" x2="546.2" y2="726.4" stroke="#262626" stroke-width="1.6"/>
<text x="546.2" y="748.9" font-size="13" fill="#1a1a1a" stroke="#1a1a1a" stroke-width="0.25" text-anchor="middle">0</text>
<line x1="578.9" y1="730.9" x2="578.9" y2="726.4" stroke="#262626" stroke-width="1.6"/>
<text x="578.9" y="748.9" font-size="13" fill="#1a1a1a" stroke="#1a1a1a" stroke-width="0.25" text-anchor="middle">2</text>
<line x1="611.6" y1="730.9" x2="611.6" y2="726.4" stroke="#262626" stroke-width="1.6"/>
<text x="611.6" y="748.9" font-size="13" fill="#1a1a1a" stroke="#1a1a1a" stroke-width="0.25" text-anchor="middle">4</text>
<line x1="644.3" y1="730.9" x2="644.3" y2="726.4" stroke="#262626" stroke-width="1.6"/>
<text x="644.3" y="748.9" font-size="13" fill="#1a1a1a" stroke="#1a1a1a" stroke-width="0.25" text-anchor="middle">6</text>
<line x1="677" y1="730.9" x2="677" y2="726.4" stroke="#262626" stroke-width="1.6"/>
<text x="677" y="748.9" font-size="13" fill="#1a1a1a" stroke="#1a1a1a" stroke-width="0.25" text-anchor="middle">8</text>
<text x="595.4" y="617" font-size="14.4" fill="#1a1a1a" stroke="#1a1a1a" stroke-width="0.25" text-anchor="middle">7<tspan font-size="11.4" dy="-7">th</tspan><tspan dy="7"> fixation</tspan></text>
<text x="513.9" y="606.8" font-size="16" fill="#000" stroke="#000" stroke-width="0.25" text-anchor="middle" font-weight="bold">n</text>
<path d="M41.8 894.1H49.97V893.05H41.8ZM49.97 894.1H58.15V889.37H49.97ZM58.15 894.1H66.33V887.33H58.15ZM66.33 894.1H74.5V883.24H66.33ZM74.5 894.1H82.67V877.52H74.5ZM82.67 894.1H90.85V879.16H82.67ZM90.85 894.1H99.02V870.98H90.85ZM99.03 894.1H107.2V846.05H99.03ZM107.2 894.1H115.38V842.37H107.2ZM115.38 894.1H123.55V837.26H115.38ZM123.55 894.1H131.72V798.43H123.55ZM131.73 894.1H139.9V812.12H131.73ZM139.9 894.1H148.08V840.32H139.9ZM148.07 894.1H156.25V856.27H148.07ZM156.25 894.1H164.43V881.2H156.25Z" fill="#808080"/>
<polyline points="45.89,886.92 54.06,875.07 62.24,862.81 70.41,852.59 78.59,842.78 86.76,836.65 94.94,831.13 103.11,830.51 111.29,834.19 119.46,846.46 127.64,860.76 135.81,873.02 143.99,883.24 152.16,887.74 160.34,891.01" fill="none" stroke="#ff0000" stroke-width="2" stroke-linejoin="round"/>
<polyline points="45.89,890.4 54.06,883.24 62.24,875.07 70.41,866.89 78.59,860.76 86.76,853.61 94.94,841.35 103.11,832.15 111.29,825.61 119.46,828.47 127.64,841.35 135.81,856.67 143.99,868.94 152.16,879.16 160.34,885.29" fill="none" stroke="#ffbf00" stroke-width="2" stroke-linejoin="round"/>
<polyline points="45.89,890.4 54.06,883.24 62.24,878.13 70.41,872 78.59,864.85 86.76,856.67 94.94,844.41 103.11,835.83 111.29,831.13 119.46,832.15 127.64,839.3 135.81,852.59 143.99,864.85 152.16,874.05 160.34,880.79" fill="none" stroke="#80ff00" stroke-width="2" stroke-linejoin="round"/>
<polyline points="45.89,891.01 54.06,889.37 62.24,887.33 70.41,884.26 78.59,878.75 86.76,873.02 94.94,865.87 103.11,856.67 111.29,844.41 119.46,827.04 127.64,817.84 135.81,823.97 143.99,838.28 152.16,856.67 160.34,871.39" fill="none" stroke="#00ff40" stroke-width="2" stroke-linejoin="round"/>
<polyline points="45.89,894.48 54.06,893.87 62.24,893.05 70.41,891.42 78.59,888.97 86.76,884.88 94.94,879.16 103.11,870.57 111.29,852.59 119.46,823.97 127.64,795.36 135.81,789.23 143.99,808.65 152.16,837.87 160.34,864.85" fill="none" stroke="#00ffff" stroke-width="2" stroke-linejoin="round"/>
<polyline points="45.89,894.48 54.06,893.87 62.24,893.05 70.41,891.42 78.59,888.97 86.76,884.88 94.94,879.16 103.11,870.57 111.29,852.59 119.46,823.97 127.64,795.36 135.81,789.23 143.99,808.65 152.16,837.87 160.34,864.85" fill="none" stroke="#0040ff" stroke-width="2" stroke-linejoin="round"/>
<polyline points="45.89,894.48 54.06,893.87 62.24,893.05 70.41,891.42 78.59,888.97 86.76,884.88 94.94,879.16 103.11,870.57 111.29,852.59 119.46,823.97 127.64,795.36 135.81,789.23 143.99,808.65 152.16,837.87 160.34,864.85" fill="none" stroke="#8000ff" stroke-width="2" stroke-linejoin="round"/>
<polyline points="45.89,894.48 54.06,893.87 62.24,893.05 70.41,891.42 78.59,888.97 86.76,884.88 94.94,879.16 103.11,870.57 111.29,852.59 119.46,823.97 127.64,796.38 135.81,790.87 143.99,809.67 152.16,838.28 160.34,865.87" fill="none" stroke="#ff00bf" stroke-width="2" stroke-linejoin="round"/>
<line x1="41.8" y1="763.56" x2="41.8" y2="895.1" stroke="#262626" stroke-width="2"/>
<line x1="40.8" y1="894.1" x2="173.1" y2="894.1" stroke="#262626" stroke-width="2"/>
<line x1="41.8" y1="894.1" x2="46.3" y2="894.1" stroke="#262626" stroke-width="1.6"/>
<text x="36.2" y="898.7" font-size="13" fill="#1a1a1a" stroke="#1a1a1a" stroke-width="0.25" text-anchor="end">0</text>
<line x1="41.8" y1="842.3" x2="46.3" y2="842.3" stroke="#262626" stroke-width="1.6"/>
<text x="36.2" y="846.9" font-size="13" fill="#1a1a1a" stroke="#1a1a1a" stroke-width="0.25" text-anchor="end">0.1</text>
<line x1="41.8" y1="790.5" x2="46.3" y2="790.5" stroke="#262626" stroke-width="1.6"/>
<text x="36.2" y="795.1" font-size="13" fill="#1a1a1a" stroke="#1a1a1a" stroke-width="0.25" text-anchor="end">0.2</text>
<line x1="41.8" y1="894.1" x2="41.8" y2="889.6" stroke="#262626" stroke-width="1.6"/>
<text x="41.8" y="912.1" font-size="13" fill="#1a1a1a" stroke="#1a1a1a" stroke-width="0.25" text-anchor="middle">0</text>
<line x1="74.5" y1="894.1" x2="74.5" y2="889.6" stroke="#262626" stroke-width="1.6"/>
<text x="74.5" y="912.1" font-size="13" fill="#1a1a1a" stroke="#1a1a1a" stroke-width="0.25" text-anchor="middle">2</text>
<line x1="107.2" y1="894.1" x2="107.2" y2="889.6" stroke="#262626" stroke-width="1.6"/>
<text x="107.2" y="912.1" font-size="13" fill="#1a1a1a" stroke="#1a1a1a" stroke-width="0.25" text-anchor="middle">4</text>
<line x1="139.9" y1="894.1" x2="139.9" y2="889.6" stroke="#262626" stroke-width="1.6"/>
<text x="139.9" y="912.1" font-size="13" fill="#1a1a1a" stroke="#1a1a1a" stroke-width="0.25" text-anchor="middle">6</text>
<line x1="172.6" y1="894.1" x2="172.6" y2="889.6" stroke="#262626" stroke-width="1.6"/>
<text x="172.6" y="912.1" font-size="13" fill="#1a1a1a" stroke="#1a1a1a" stroke-width="0.25" text-anchor="middle">8</text>
<text x="91" y="780.2" font-size="14.4" fill="#1a1a1a" stroke="#1a1a1a" stroke-width="0.25" text-anchor="middle">9<tspan font-size="11.4" dy="-7">th</tspan><tspan dy="7"> fixation</tspan></text>
<text x="9.5" y="770" font-size="16" fill="#000" stroke="#000" stroke-width="0.25" text-anchor="middle" font-weight="bold">o</text>
<text x="10.9" y="829" font-size="14.4" fill="#1a1a1a" stroke="#1a1a1a" stroke-width="0.25" text-anchor="middle" transform="rotate(-90 10.9 829)">Probability</text>
<path d="M209.8 894.1H217.98V893.46H209.8ZM217.98 894.1H226.15V891.42H217.98ZM226.15 894.1H234.33V888.35H226.15ZM234.33 894.1H242.5V877.52H234.33ZM242.5 894.1H250.68V878.75H242.5ZM250.68 894.1H258.85V871.39H250.68ZM258.85 894.1H267.03V860.76H258.85ZM267.03 894.1H275.2V860.76H267.03ZM275.2 894.1H283.38V840.32H275.2ZM283.38 894.1H291.55V830.11H283.38ZM291.55 894.1H299.73V817.84H291.55ZM299.73 894.1H307.9V828.47H299.73ZM307.9 894.1H316.08V829.08H307.9ZM316.08 894.1H324.25V854.63H316.08ZM324.25 894.1H332.43V878.13H324.25Z" fill="#808080"/>
<polyline points="213.89,886.92 222.06,873.02 230.24,859.74 238.41,850.54 246.59,841.35 254.76,837.26 262.94,832.15 271.11,831.74 279.29,837.87 287.46,850.54 295.64,864.85 303.81,877.11 311.99,883.24 320.16,887.33 328.34,891.01" fill="none" stroke="#ff0000" stroke-width="2" stroke-linejoin="round"/>
<polyline points="213.89,890.4 222.06,883.24 230.24,877.11 238.41,872 246.59,862.81 254.76,854.63 262.94,842.37 271.11,833.78 279.29,829.08 287.46,828.06 295.64,838.28 303.81,852.59 311.99,866.89 320.16,877.11 328.34,884.26" fill="none" stroke="#ffbf00" stroke-width="2" stroke-linejoin="round"/>
<polyline points="213.89,890.4 222.06,885.29 230.24,880.18 238.41,874.05 246.59,866.89 254.76,858.72 262.94,846.46 271.11,837.26 279.29,830.51 287.46,826.02 295.64,832.15 303.81,846.46 311.99,860.76 320.16,870.98 328.34,878.13" fill="none" stroke="#80ff00" stroke-width="2" stroke-linejoin="round"/>
<polyline points="213.89,891.01 222.06,886.31 230.24,881.2 238.41,875.07 246.59,868.94 254.76,863.83 262.94,852.59 271.11,842.37 279.29,833.17 287.46,825 295.64,831.13 303.81,842.37 311.99,858.72 320.16,868.94 328.34,875.07" fill="none" stroke="#00ff40" stroke-width="2" stroke-linejoin="round"/>
<polyline points="213.89,891.42 222.06,889.78 230.24,888.35 238.41,883.65 246.59,880.79 254.76,876.09 262.94,870.98 271.11,862.81 279.29,850.54 287.46,834.19 295.64,820.91 303.81,816.82 311.99,826.02 320.16,844.41 328.34,860.35" fill="none" stroke="#00ffff" stroke-width="2" stroke-linejoin="round"/>
<polyline points="213.89,894.48 222.06,894.48 230.24,893.46 238.41,893.05 246.59,891.42 254.76,889.37 262.94,885.29 271.11,879.16 279.29,866.89 287.46,844.41 295.64,812.73 303.81,789.23 311.99,793.32 320.16,822.95 328.34,852.59" fill="none" stroke="#0040ff" stroke-width="2" stroke-linejoin="round"/>
<polyline points="213.89,894.48 222.06,894.48 230.24,893.46 238.41,893.05 246.59,891.42 254.76,889.37 262.94,887.33 271.11,880.18 279.29,867.92 287.46,844.41 295.64,812.73 303.81,788.21 311.99,795.36 320.16,823.97 328.34,853.61" fill="none" stroke="#8000ff" stroke-width="2" stroke-linejoin="round"/>
<polyline points="213.89,894.48 222.06,894.48 230.24,893.46 238.41,893.05 246.59,891.42 254.76,889.37 262.94,887.33 271.11,880.18 279.29,867.92 287.46,844.41 295.64,812.73 303.81,788.21 311.99,795.36 320.16,823.97 328.34,853.61" fill="none" stroke="#ff00bf" stroke-width="2" stroke-linejoin="round"/>
<line x1="209.8" y1="763.56" x2="209.8" y2="895.1" stroke="#262626" stroke-width="2"/>
<line x1="208.8" y1="894.1" x2="341.1" y2="894.1" stroke="#262626" stroke-width="2"/>
<line x1="209.8" y1="894.1" x2="214.3" y2="894.1" stroke="#262626" stroke-width="1.6"/>
<text x="204.2" y="898.7" font-size="13" fill="#1a1a1a" stroke="#1a1a1a" stroke-width="0.25" text-anchor="end">0</text>
<line x1="209.8" y1="842.3" x2="214.3" y2="842.3" stroke="#262626" stroke-width="1.6"/>
<text x="204.2" y="846.9" font-size="13" fill="#1a1a1a" stroke="#1a1a1a" stroke-width="0.25" text-anchor="end">0.1</text>
<line x1="209.8" y1="790.5" x2="214.3" y2="790.5" stroke="#262626" stroke-width="1.6"/>
<text x="204.2" y="795.1" font-size="13" fill="#1a1a1a" stroke="#1a1a1a" stroke-width="0.25" text-anchor="end">0.2</text>
<line x1="209.8" y1="894.1" x2="209.8" y2="889.6" stroke="#262626" stroke-width="1.6"/>
<text x="209.8" y="912.1" font-size="13" fill="#1a1a1a" stroke="#1a1a1a" stroke-width="0.25" text-anchor="middle">0</text>
<line x1="242.5" y1="894.1" x2="242.5" y2="889.6" stroke="#262626" stroke-width="1.6"/>
<text x="242.5" y="912.1" font-size="13" fill="#1a1a1a" stroke="#1a1a1a" stroke-width="0.25" text-anchor="middle">2</text>
<line x1="275.2" y1="894.1" x2="275.2" y2="889.6" stroke="#262626" stroke-width="1.6"/>
<text x="275.2" y="912.1" font-size="13" fill="#1a1a1a" stroke="#1a1a1a" stroke-width="0.25" text-anchor="middle">4</text>
<line x1="307.9" y1="894.1" x2="307.9" y2="889.6" stroke="#262626" stroke-width="1.6"/>
<text x="307.9" y="912.1" font-size="13" fill="#1a1a1a" stroke="#1a1a1a" stroke-width="0.25" text-anchor="middle">6</text>
<line x1="340.6" y1="894.1" x2="340.6" y2="889.6" stroke="#262626" stroke-width="1.6"/>
<text x="340.6" y="912.1" font-size="13" fill="#1a1a1a" stroke="#1a1a1a" stroke-width="0.25" text-anchor="middle">8</text>
<text x="259" y="780.2" font-size="14.4" fill="#1a1a1a" stroke="#1a1a1a" stroke-width="0.25" text-anchor="middle">11<tspan font-size="11.4" dy="-7">th</tspan><tspan dy="7"> fixation</tspan></text>
<text x="177.5" y="770" font-size="16" fill="#000" stroke="#000" stroke-width="0.25" text-anchor="middle" font-weight="bold">p</text>
<path d="M378.1 894.1H386.28V893.46H378.1ZM386.28 894.1H394.45V891.42H386.28ZM394.45 894.1H402.63V886.92H394.45ZM402.62 894.1H410.8V877.52H402.62ZM410.8 894.1H418.98V883.24H410.8ZM418.98 894.1H427.15V875.07H418.98ZM427.15 894.1H435.33V867.92H427.15ZM435.33 894.1H443.5V856.67H435.33ZM443.5 894.1H451.68V841.35H443.5ZM451.68 894.1H459.85V833.17H451.68ZM459.85 894.1H468.03V815.39H459.85ZM468.03 894.1H476.2V814.78H468.03ZM476.2 894.1H484.38V827.65H476.2ZM484.38 894.1H492.55V860.76H484.38ZM492.55 894.1H500.73V874.66H492.55Z" fill="#808080"/>
<polyline points="382.19,887.33 390.36,873.02 398.54,860.76 406.71,850.54 414.89,842.37 423.06,833.78 431.24,831.74 439.41,832.56 447.59,837.26 455.76,848.5 463.94,864.85 472.11,876.09 480.29,883.24 488.46,887.33 496.64,891.01" fill="none" stroke="#ff0000" stroke-width="2" stroke-linejoin="round"/>
<polyline points="382.19,889.37 390.36,883.24 398.54,877.11 406.71,869.96 414.89,861.78 423.06,850.54 431.24,841.35 439.41,834.19 447.59,828.47 455.76,831.74 463.94,842.37 472.11,854.63 480.29,866.89 488.46,876.09 496.64,884.26" fill="none" stroke="#ffbf00" stroke-width="2" stroke-linejoin="round"/>
<polyline points="382.19,889.78 390.36,885.29 398.54,881.2 406.71,874.05 414.89,866.89 423.06,860.76 431.24,850.54 439.41,837.26 447.59,828.06 455.76,819.48 463.94,826.02 472.11,844.41 480.29,858.72 488.46,868.94 496.64,878.75" fill="none" stroke="#80ff00" stroke-width="2" stroke-linejoin="round"/>
<polyline points="382.19,890.4 390.36,885.29 398.54,881.2 406.71,877.11 414.89,869.96 423.06,863.83 431.24,853.61 439.41,842.37 447.59,834.19 455.76,827.04 463.94,826.02 472.11,836.24 480.29,854.63 488.46,866.89 496.64,876.09" fill="none" stroke="#00ff40" stroke-width="2" stroke-linejoin="round"/>
<polyline points="382.19,890.4 390.36,884.26 398.54,880.18 406.71,876.09 414.89,870.98 423.06,866.89 431.24,863.83 439.41,853.61 447.59,844.41 455.76,834.19 463.94,830.11 472.11,831.13 480.29,844.41 488.46,856.67 496.64,868.53" fill="none" stroke="#00ffff" stroke-width="2" stroke-linejoin="round"/>
<polyline points="382.19,892.44 390.36,889.37 398.54,886.31 406.71,885.29 414.89,882.22 423.06,880.79 431.24,876.09 439.41,870.98 447.59,860.76 455.76,846.46 463.94,826.02 472.11,814.16 480.29,814.78 488.46,832.15 496.64,850.54" fill="none" stroke="#0040ff" stroke-width="2" stroke-linejoin="round"/>
<polyline points="382.19,894.48 390.36,894.48 398.54,893.87 406.71,893.05 414.89,891.42 423.06,890.4 431.24,888.35 439.41,883.24 447.59,875.07 455.76,856.67 463.94,823.97 472.11,797.41 480.29,788.21 488.46,808.65 496.64,835.22" fill="none" stroke="#8000ff" stroke-width="2" stroke-linejoin="round"/>
<polyline points="382.19,894.48 390.36,894.48 398.54,893.87 406.71,893.05 414.89,891.42 423.06,890.4 431.24,888.35 439.41,883.24 447.59,875.07 455.76,856.67 463.94,823.97 472.11,798.43 480.29,786.78 488.46,809.67 496.64,836.65" fill="none" stroke="#ff00bf" stroke-width="2" stroke-linejoin="round"/>
<line x1="378.1" y1="763.56" x2="378.1" y2="895.1" stroke="#262626" stroke-width="2"/>
<line x1="377.1" y1="894.1" x2="509.4" y2="894.1" stroke="#262626" stroke-width="2"/>
<line x1="378.1" y1="894.1" x2="382.6" y2="894.1" stroke="#262626" stroke-width="1.6"/>
<text x="372.5" y="898.7" font-size="13" fill="#1a1a1a" stroke="#1a1a1a" stroke-width="0.25" text-anchor="end">0</text>
<line x1="378.1" y1="842.3" x2="382.6" y2="842.3" stroke="#262626" stroke-width="1.6"/>
<text x="372.5" y="846.9" font-size="13" fill="#1a1a1a" stroke="#1a1a1a" stroke-width="0.25" text-anchor="end">0.1</text>
<line x1="378.1" y1="790.5" x2="382.6" y2="790.5" stroke="#262626" stroke-width="1.6"/>
<text x="372.5" y="795.1" font-size="13" fill="#1a1a1a" stroke="#1a1a1a" stroke-width="0.25" text-anchor="end">0.2</text>
<line x1="378.1" y1="894.1" x2="378.1" y2="889.6" stroke="#262626" stroke-width="1.6"/>
<text x="378.1" y="912.1" font-size="13" fill="#1a1a1a" stroke="#1a1a1a" stroke-width="0.25" text-anchor="middle">0</text>
<line x1="410.8" y1="894.1" x2="410.8" y2="889.6" stroke="#262626" stroke-width="1.6"/>
<text x="410.8" y="912.1" font-size="13" fill="#1a1a1a" stroke="#1a1a1a" stroke-width="0.25" text-anchor="middle">2</text>
<line x1="443.5" y1="894.1" x2="443.5" y2="889.6" stroke="#262626" stroke-width="1.6"/>
<text x="443.5" y="912.1" font-size="13" fill="#1a1a1a" stroke="#1a1a1a" stroke-width="0.25" text-anchor="middle">4</text>
<line x1="476.2" y1="894.1" x2="476.2" y2="889.6" stroke="#262626" stroke-width="1.6"/>
<text x="476.2" y="912.1" font-size="13" fill="#1a1a1a" stroke="#1a1a1a" stroke-width="0.25" text-anchor="middle">6</text>
<line x1="508.9" y1="894.1" x2="508.9" y2="889.6" stroke="#262626" stroke-width="1.6"/>
<text x="508.9" y="912.1" font-size="13" fill="#1a1a1a" stroke="#1a1a1a" stroke-width="0.25" text-anchor="middle">8</text>
<text x="427.3" y="780.2" font-size="14.4" fill="#1a1a1a" stroke="#1a1a1a" stroke-width="0.25" text-anchor="middle">13<tspan font-size="11.4" dy="-7">th</tspan><tspan dy="7"> fixation</tspan></text>
<text x="345.8" y="770" font-size="16" fill="#000" stroke="#000" stroke-width="0.25" text-anchor="middle" font-weight="bold">q</text>
<path d="M546.2 894.1H554.38V893.05H546.2ZM554.38 894.1H562.55V890.4H554.38ZM562.55 894.1H570.73V889.37H562.55ZM570.73 894.1H578.9V887.33H570.73ZM578.9 894.1H587.08V879.16H578.9ZM587.08 894.1H595.25V872H587.08ZM595.25 894.1H603.42V868.94H595.25ZM603.43 894.1H611.6V860.35H603.43ZM611.6 894.1H619.77V828.06H611.6ZM619.78 894.1H627.95V821.93H619.78ZM627.95 894.1H636.12V805.17H627.95ZM636.12 894.1H644.3V816.21H636.12ZM644.3 894.1H652.48V832.15H644.3ZM652.48 894.1H660.65V858.72H652.48ZM660.65 894.1H668.83V883.24H660.65Z" fill="#808080"/>
<polyline points="550.29,887.33 558.46,874.66 566.64,861.78 574.81,852.18 582.99,842.37 591.16,836.65 599.34,831.13 607.51,830.51 615.69,838.28 623.86,846.46 632.04,860.76 640.21,874.05 648.39,883.24 656.56,887.74 664.74,890.4" fill="none" stroke="#ff0000" stroke-width="2" stroke-linejoin="round"/>
<polyline points="550.29,889.78 558.46,883.24 566.64,876.09 574.81,868.94 582.99,862.81 591.16,853.61 599.34,841.35 607.51,835.22 615.69,830.11 623.86,830.51 632.04,840.32 640.21,852.59 648.39,867.92 656.56,877.11 664.74,884.26" fill="none" stroke="#ffbf00" stroke-width="2" stroke-linejoin="round"/>
<polyline points="550.29,891.42 558.46,886.31 566.64,880.79 574.81,874.05 582.99,868.94 591.16,861.78 599.34,856.67 607.51,843.39 615.69,828.06 623.86,822.95 632.04,827.65 640.21,838.28 648.39,856.67 656.56,868.94 664.74,878.13" fill="none" stroke="#80ff00" stroke-width="2" stroke-linejoin="round"/>
<polyline points="550.29,891.42 558.46,887.33 566.64,882.83 574.81,879.16 582.99,873.02 591.16,866.89 599.34,860.76 607.51,848.5 615.69,834.19 623.86,825 632.04,821.93 640.21,829.7 648.39,844.41 656.56,860.76 664.74,871.39" fill="none" stroke="#00ff40" stroke-width="2" stroke-linejoin="round"/>
<polyline points="550.29,891.01 558.46,885.29 566.64,880.18 574.81,877.52 582.99,874.05 591.16,869.96 599.34,865.87 607.51,856.67 615.69,842.37 623.86,827.04 632.04,823.97 640.21,827.04 648.39,842.37 656.56,856.67 664.74,868.94" fill="none" stroke="#00ffff" stroke-width="2" stroke-linejoin="round"/>
<polyline points="550.29,890.4 558.46,883.24 566.64,879.16 574.81,876.7 582.99,877.52 591.16,870.98 599.34,868.94 607.51,865.87 615.69,856.67 623.86,844.41 632.04,832.15 640.21,831.13 648.39,833.17 656.56,848.5 664.74,855.65" fill="none" stroke="#0040ff" stroke-width="2" stroke-linejoin="round"/>
<polyline points="550.29,892.44 558.46,888.35 566.64,886.31 574.81,883.24 582.99,884.26 591.16,880.18 599.34,879.16 607.51,876.09 615.69,869.96 623.86,860.76 632.04,844.41 640.21,826.02 648.39,813.76 656.56,819.89 664.74,835.83" fill="none" stroke="#8000ff" stroke-width="2" stroke-linejoin="round"/>
<polyline points="550.29,894.48 558.46,893.87 566.64,893.46 574.81,892.44 582.99,891.42 591.16,889.37 599.34,889.37 607.51,883.24 615.69,875.07 623.86,858.72 632.04,832.15 640.21,806.6 648.39,786.17 656.56,793.32 664.74,823.97" fill="none" stroke="#ff00bf" stroke-width="2" stroke-linejoin="round"/>
<line x1="546.2" y1="763.56" x2="546.2" y2="895.1" stroke="#262626" stroke-width="2"/>
<line x1="545.2" y1="894.1" x2="677.5" y2="894.1" stroke="#262626" stroke-width="2"/>
<line x1="546.2" y1="894.1" x2="550.7" y2="894.1" stroke="#262626" stroke-width="1.6"/>
<text x="540.6" y="898.7" font-size="13" fill="#1a1a1a" stroke="#1a1a1a" stroke-width="0.25" text-anchor="end">0</text>
<line x1="546.2" y1="842.3" x2="550.7" y2="842.3" stroke="#262626" stroke-width="1.6"/>
<text x="540.6" y="846.9" font-size="13" fill="#1a1a1a" stroke="#1a1a1a" stroke-width="0.25" text-anchor="end">0.1</text>
<line x1="546.2" y1="790.5" x2="550.7" y2="790.5" stroke="#262626" stroke-width="1.6"/>
<text x="540.6" y="795.1" font-size="13" fill="#1a1a1a" stroke="#1a1a1a" stroke-width="0.25" text-anchor="end">0.2</text>
<line x1="546.2" y1="894.1" x2="546.2" y2="889.6" stroke="#262626" stroke-width="1.6"/>
<text x="546.2" y="912.1" font-size="13" fill="#1a1a1a" stroke="#1a1a1a" stroke-width="0.25" text-anchor="middle">0</text>
<line x1="578.9" y1="894.1" x2="578.9" y2="889.6" stroke="#262626" stroke-width="1.6"/>
<text x="578.9" y="912.1" font-size="13" fill="#1a1a1a" stroke="#1a1a1a" stroke-width="0.25" text-anchor="middle">2</text>
<line x1="611.6" y1="894.1" x2="611.6" y2="889.6" stroke="#262626" stroke-width="1.6"/>
<text x="611.6" y="912.1" font-size="13" fill="#1a1a1a" stroke="#1a1a1a" stroke-width="0.25" text-anchor="middle">4</text>
<line x1="644.3" y1="894.1" x2="644.3" y2="889.6" stroke="#262626" stroke-width="1.6"/>
<text x="644.3" y="912.1" font-size="13" fill="#1a1a1a" stroke="#1a1a1a" stroke-width="0.25" text-anchor="middle">6</text>
<line x1="677" y1="894.1" x2="677" y2="889.6" stroke="#262626" stroke-width="1.6"/>
<text x="677" y="912.1" font-size="13" fill="#1a1a1a" stroke="#1a1a1a" stroke-width="0.25" text-anchor="middle">8</text>
<text x="595.4" y="780.2" font-size="14.4" fill="#1a1a1a" stroke="#1a1a1a" stroke-width="0.25" text-anchor="middle">15<tspan font-size="11.4" dy="-7">th</tspan><tspan dy="7"> fixation</tspan></text>
<text x="513.9" y="770" font-size="16" fill="#000" stroke="#000" stroke-width="0.25" text-anchor="middle" font-weight="bold">r</text>
<text x="340" y="930.6" font-size="14.4" fill="#1a1a1a" stroke="#1a1a1a" stroke-width="0.25" text-anchor="middle">Distance from fixation location to image center (deg)</text>
<rect x="9.2" y="942" width="42.9" height="11.6" fill="#808080"/>
<text x="55.8" y="953.1" font-size="14.4" fill="#1a1a1a" stroke="#1a1a1a" stroke-width="0.25">Subjects</text>
<line x1="149.8" y1="947.9" x2="193" y2="947.9" stroke="#ff0000" stroke-width="2"/>
<text x="196.4" y="953.1" font-size="14.4" fill="#1a1a1a" stroke="#1a1a1a" stroke-width="0.25">2 fixations</text>
<line x1="290.2" y1="947.9" x2="333.4" y2="947.9" stroke="#ffbf00" stroke-width="2"/>
<text x="336.8" y="953.1" font-size="14.4" fill="#1a1a1a" stroke="#1a1a1a" stroke-width="0.25">4 fixations</text>
<line x1="431.2" y1="947.9" x2="474.4" y2="947.9" stroke="#80ff00" stroke-width="2"/>
<text x="477.8" y="953.1" font-size="14.4" fill="#1a1a1a" stroke="#1a1a1a" stroke-width="0.25">6 fixations</text>
<line x1="564" y1="947.9" x2="607.2" y2="947.9" stroke="#00ff40" stroke-width="2"/>
<text x="610.6" y="953.1" font-size="14.4" fill="#1a1a1a" stroke="#1a1a1a" stroke-width="0.25">8 fixations</text>
<line x1="9.2" y1="964.9" x2="52.4" y2="964.9" stroke="#00ffff" stroke-width="2"/>
<text x="55.8" y="970.1" font-size="14.4" fill="#1a1a1a" stroke="#1a1a1a" stroke-width="0.25">10 fixations</text>
<line x1="149.8" y1="964.9" x2="193" y2="964.9" stroke="#0040ff" stroke-width="2"/>
<text x="196.4" y="970.1" font-size="14.4" fill="#1a1a1a" stroke="#1a1a1a" stroke-width="0.25">12 fixations</text>
<line x1="290.2" y1="964.9" x2="333.4" y2="964.9" stroke="#8000ff" stroke-width="2"/>
<text x="336.8" y="970.1" font-size="14.4" fill="#1a1a1a" stroke="#1a1a1a" stroke-width="0.25">14 fixations</text>
<line x1="431.2" y1="964.9" x2="474.4" y2="964.9" stroke="#ff00bf" stroke-width="2"/>
<text x="477.8" y="970.1" font-size="14.4" fill="#1a1a1a" stroke="#1a1a1a" stroke-width="0.25">Inf</text>
</svg></body></html>
